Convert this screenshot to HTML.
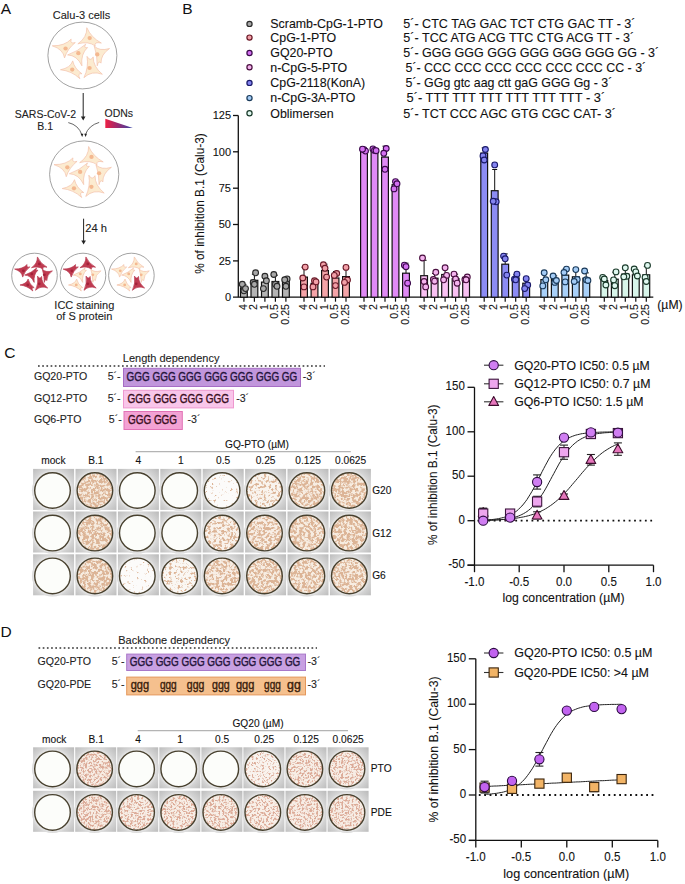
<!DOCTYPE html>
<html><head><meta charset="utf-8"><title>figure</title><style>
html,body{margin:0;padding:0;background:#fff;}
svg{display:block;font-family:"Liberation Sans",sans-serif;}
text{stroke:currentColor;stroke-width:0.1px;paint-order:stroke;}
text.pl{stroke-width:0;}
</style></head><body>
<svg width="685" height="884" viewBox="0 0 685 884">
<rect width="685" height="884" fill="#fff"/>
<defs><radialGradient id="wsq" cx="0.48" cy="0.52" r="0.71"><stop offset="0" stop-color="#e6e6e6"/><stop offset="0.62" stop-color="#dddddd"/><stop offset="0.8" stop-color="#cdcdcd"/><stop offset="1" stop-color="#bcbcbc"/></radialGradient><radialGradient id="wring"><stop offset="0.8" stop-color="#eeeeee"/><stop offset="1" stop-color="#dadada"/></radialGradient></defs>
<defs><filter id="fc1" color-interpolation-filters="sRGB" x="-5%" y="-5%" width="110%" height="110%"><feTurbulence type="fractalNoise" baseFrequency="0.36" numOctaves="3" seed="12" result="n"/><feGaussianBlur in="n" stdDeviation="0.25" result="nb"/><feColorMatrix in="nb" type="matrix" values="0 0 0 0 0  0 0 0 0 0  0 0 0 0 0  6.0 0 0 0 -3.788" result="a0"/><feGaussianBlur in="a0" stdDeviation="0.45" result="a"/><feComposite in="SourceGraphic" in2="a" operator="in"/></filter><filter id="fc2" color-interpolation-filters="sRGB" x="-5%" y="-5%" width="110%" height="110%"><feTurbulence type="fractalNoise" baseFrequency="0.36" numOctaves="3" seed="13" result="n"/><feGaussianBlur in="n" stdDeviation="0.25" result="nb"/><feColorMatrix in="nb" type="matrix" values="0 0 0 0 0  0 0 0 0 0  0 0 0 0 0  6.0 0 0 0 -3.512" result="a0"/><feGaussianBlur in="a0" stdDeviation="0.45" result="a"/><feComposite in="SourceGraphic" in2="a" operator="in"/></filter><filter id="fc3" color-interpolation-filters="sRGB" x="-5%" y="-5%" width="110%" height="110%"><feTurbulence type="fractalNoise" baseFrequency="0.36" numOctaves="3" seed="14" result="n"/><feGaussianBlur in="n" stdDeviation="0.25" result="nb"/><feColorMatrix in="nb" type="matrix" values="0 0 0 0 0  0 0 0 0 0  0 0 0 0 0  6.0 0 0 0 -3.318" result="a0"/><feGaussianBlur in="a0" stdDeviation="0.45" result="a"/><feComposite in="SourceGraphic" in2="a" operator="in"/></filter><filter id="fc4" color-interpolation-filters="sRGB" x="-5%" y="-5%" width="110%" height="110%"><feTurbulence type="fractalNoise" baseFrequency="0.36" numOctaves="3" seed="15" result="n"/><feGaussianBlur in="n" stdDeviation="0.25" result="nb"/><feColorMatrix in="nb" type="matrix" values="0 0 0 0 0  0 0 0 0 0  0 0 0 0 0  6.0 0 0 0 -3.162" result="a0"/><feGaussianBlur in="a0" stdDeviation="0.45" result="a"/><feComposite in="SourceGraphic" in2="a" operator="in"/></filter><filter id="fc5" color-interpolation-filters="sRGB" x="-5%" y="-5%" width="110%" height="110%"><feTurbulence type="fractalNoise" baseFrequency="0.36" numOctaves="3" seed="16" result="n"/><feGaussianBlur in="n" stdDeviation="0.25" result="nb"/><feColorMatrix in="nb" type="matrix" values="0 0 0 0 0  0 0 0 0 0  0 0 0 0 0  6.0 0 0 0 -3.028" result="a0"/><feGaussianBlur in="a0" stdDeviation="0.45" result="a"/><feComposite in="SourceGraphic" in2="a" operator="in"/></filter><filter id="fc6" color-interpolation-filters="sRGB" x="-5%" y="-5%" width="110%" height="110%"><feTurbulence type="fractalNoise" baseFrequency="0.36" numOctaves="3" seed="17" result="n"/><feGaussianBlur in="n" stdDeviation="0.25" result="nb"/><feColorMatrix in="nb" type="matrix" values="0 0 0 0 0  0 0 0 0 0  0 0 0 0 0  6.0 0 0 0 -2.909" result="a0"/><feGaussianBlur in="a0" stdDeviation="0.45" result="a"/><feComposite in="SourceGraphic" in2="a" operator="in"/></filter><filter id="fc7" color-interpolation-filters="sRGB" x="-5%" y="-5%" width="110%" height="110%"><feTurbulence type="fractalNoise" baseFrequency="0.36" numOctaves="3" seed="18" result="n"/><feGaussianBlur in="n" stdDeviation="0.25" result="nb"/><feColorMatrix in="nb" type="matrix" values="0 0 0 0 0  0 0 0 0 0  0 0 0 0 0  6.0 0 0 0 -2.800" result="a0"/><feGaussianBlur in="a0" stdDeviation="0.45" result="a"/><feComposite in="SourceGraphic" in2="a" operator="in"/></filter><filter id="fc8" color-interpolation-filters="sRGB" x="-5%" y="-5%" width="110%" height="110%"><feTurbulence type="fractalNoise" baseFrequency="0.36" numOctaves="3" seed="19" result="n"/><feGaussianBlur in="n" stdDeviation="0.25" result="nb"/><feColorMatrix in="nb" type="matrix" values="0 0 0 0 0  0 0 0 0 0  0 0 0 0 0  6.0 0 0 0 -2.696" result="a0"/><feGaussianBlur in="a0" stdDeviation="0.45" result="a"/><feComposite in="SourceGraphic" in2="a" operator="in"/></filter><filter id="fc9" color-interpolation-filters="sRGB" x="-5%" y="-5%" width="110%" height="110%"><feTurbulence type="fractalNoise" baseFrequency="0.36" numOctaves="3" seed="20" result="n"/><feGaussianBlur in="n" stdDeviation="0.25" result="nb"/><feColorMatrix in="nb" type="matrix" values="0 0 0 0 0  0 0 0 0 0  0 0 0 0 0  6.0 0 0 0 -2.597" result="a0"/><feGaussianBlur in="a0" stdDeviation="0.45" result="a"/><feComposite in="SourceGraphic" in2="a" operator="in"/></filter><filter id="fc10" color-interpolation-filters="sRGB" x="-5%" y="-5%" width="110%" height="110%"><feTurbulence type="fractalNoise" baseFrequency="0.36" numOctaves="3" seed="21" result="n"/><feGaussianBlur in="n" stdDeviation="0.25" result="nb"/><feColorMatrix in="nb" type="matrix" values="0 0 0 0 0  0 0 0 0 0  0 0 0 0 0  6.0 0 0 0 -2.498" result="a0"/><feGaussianBlur in="a0" stdDeviation="0.45" result="a"/><feComposite in="SourceGraphic" in2="a" operator="in"/></filter><filter id="fc11" color-interpolation-filters="sRGB" x="-5%" y="-5%" width="110%" height="110%"><feTurbulence type="fractalNoise" baseFrequency="0.36" numOctaves="3" seed="22" result="n"/><feGaussianBlur in="n" stdDeviation="0.25" result="nb"/><feColorMatrix in="nb" type="matrix" values="0 0 0 0 0  0 0 0 0 0  0 0 0 0 0  6.0 0 0 0 -2.401" result="a0"/><feGaussianBlur in="a0" stdDeviation="0.45" result="a"/><feComposite in="SourceGraphic" in2="a" operator="in"/></filter><filter id="fc12" color-interpolation-filters="sRGB" x="-5%" y="-5%" width="110%" height="110%"><feTurbulence type="fractalNoise" baseFrequency="0.36" numOctaves="3" seed="23" result="n"/><feGaussianBlur in="n" stdDeviation="0.25" result="nb"/><feColorMatrix in="nb" type="matrix" values="0 0 0 0 0  0 0 0 0 0  0 0 0 0 0  6.0 0 0 0 -2.301" result="a0"/><feGaussianBlur in="a0" stdDeviation="0.45" result="a"/><feComposite in="SourceGraphic" in2="a" operator="in"/></filter><filter id="fc13" color-interpolation-filters="sRGB" x="-5%" y="-5%" width="110%" height="110%"><feTurbulence type="fractalNoise" baseFrequency="0.36" numOctaves="3" seed="24" result="n"/><feGaussianBlur in="n" stdDeviation="0.25" result="nb"/><feColorMatrix in="nb" type="matrix" values="0 0 0 0 0  0 0 0 0 0  0 0 0 0 0  6.0 0 0 0 -2.198" result="a0"/><feGaussianBlur in="a0" stdDeviation="0.45" result="a"/><feComposite in="SourceGraphic" in2="a" operator="in"/></filter><filter id="fc14" color-interpolation-filters="sRGB" x="-5%" y="-5%" width="110%" height="110%"><feTurbulence type="fractalNoise" baseFrequency="0.36" numOctaves="3" seed="25" result="n"/><feGaussianBlur in="n" stdDeviation="0.25" result="nb"/><feColorMatrix in="nb" type="matrix" values="0 0 0 0 0  0 0 0 0 0  0 0 0 0 0  6.0 0 0 0 -2.090" result="a0"/><feGaussianBlur in="a0" stdDeviation="0.45" result="a"/><feComposite in="SourceGraphic" in2="a" operator="in"/></filter><filter id="fc15" color-interpolation-filters="sRGB" x="-5%" y="-5%" width="110%" height="110%"><feTurbulence type="fractalNoise" baseFrequency="0.36" numOctaves="3" seed="26" result="n"/><feGaussianBlur in="n" stdDeviation="0.25" result="nb"/><feColorMatrix in="nb" type="matrix" values="0 0 0 0 0  0 0 0 0 0  0 0 0 0 0  6.0 0 0 0 -1.972" result="a0"/><feGaussianBlur in="a0" stdDeviation="0.45" result="a"/><feComposite in="SourceGraphic" in2="a" operator="in"/></filter><filter id="fc16" color-interpolation-filters="sRGB" x="-5%" y="-5%" width="110%" height="110%"><feTurbulence type="fractalNoise" baseFrequency="0.36" numOctaves="3" seed="27" result="n"/><feGaussianBlur in="n" stdDeviation="0.25" result="nb"/><feColorMatrix in="nb" type="matrix" values="0 0 0 0 0  0 0 0 0 0  0 0 0 0 0  6.0 0 0 0 -1.839" result="a0"/><feGaussianBlur in="a0" stdDeviation="0.45" result="a"/><feComposite in="SourceGraphic" in2="a" operator="in"/></filter><filter id="fc17" color-interpolation-filters="sRGB" x="-5%" y="-5%" width="110%" height="110%"><feTurbulence type="fractalNoise" baseFrequency="0.36" numOctaves="3" seed="28" result="n"/><feGaussianBlur in="n" stdDeviation="0.25" result="nb"/><feColorMatrix in="nb" type="matrix" values="0 0 0 0 0  0 0 0 0 0  0 0 0 0 0  6.0 0 0 0 -1.685" result="a0"/><feGaussianBlur in="a0" stdDeviation="0.45" result="a"/><feComposite in="SourceGraphic" in2="a" operator="in"/></filter><filter id="fc18" color-interpolation-filters="sRGB" x="-5%" y="-5%" width="110%" height="110%"><feTurbulence type="fractalNoise" baseFrequency="0.36" numOctaves="3" seed="29" result="n"/><feGaussianBlur in="n" stdDeviation="0.25" result="nb"/><feColorMatrix in="nb" type="matrix" values="0 0 0 0 0  0 0 0 0 0  0 0 0 0 0  6.0 0 0 0 -1.492" result="a0"/><feGaussianBlur in="a0" stdDeviation="0.45" result="a"/><feComposite in="SourceGraphic" in2="a" operator="in"/></filter><filter id="fc19" color-interpolation-filters="sRGB" x="-5%" y="-5%" width="110%" height="110%"><feTurbulence type="fractalNoise" baseFrequency="0.36" numOctaves="3" seed="30" result="n"/><feGaussianBlur in="n" stdDeviation="0.25" result="nb"/><feColorMatrix in="nb" type="matrix" values="0 0 0 0 0  0 0 0 0 0  0 0 0 0 0  6.0 0 0 0 -1.216" result="a0"/><feGaussianBlur in="a0" stdDeviation="0.45" result="a"/><feComposite in="SourceGraphic" in2="a" operator="in"/></filter><filter id="fc20" color-interpolation-filters="sRGB" x="-5%" y="-5%" width="110%" height="110%"><feTurbulence type="fractalNoise" baseFrequency="0.36" numOctaves="3" seed="31" result="n"/><feGaussianBlur in="n" stdDeviation="0.25" result="nb"/><feColorMatrix in="nb" type="matrix" values="0 0 0 0 0  0 0 0 0 0  0 0 0 0 0  6.0 0 0 0 -0.900" result="a0"/><feGaussianBlur in="a0" stdDeviation="0.45" result="a"/><feComposite in="SourceGraphic" in2="a" operator="in"/></filter></defs>
<defs><filter id="fd1" color-interpolation-filters="sRGB" x="-5%" y="-5%" width="110%" height="110%"><feTurbulence type="fractalNoise" baseFrequency="0.48" numOctaves="3" seed="52" result="n"/><feGaussianBlur in="n" stdDeviation="0.25" result="nb"/><feColorMatrix in="nb" type="matrix" values="0 0 0 0 0  0 0 0 0 0  0 0 0 0 0  6.0 0 0 0 -3.788" result="a0"/><feGaussianBlur in="a0" stdDeviation="0.4" result="a"/><feComposite in="SourceGraphic" in2="a" operator="in"/></filter><filter id="fd2" color-interpolation-filters="sRGB" x="-5%" y="-5%" width="110%" height="110%"><feTurbulence type="fractalNoise" baseFrequency="0.48" numOctaves="3" seed="53" result="n"/><feGaussianBlur in="n" stdDeviation="0.25" result="nb"/><feColorMatrix in="nb" type="matrix" values="0 0 0 0 0  0 0 0 0 0  0 0 0 0 0  6.0 0 0 0 -3.512" result="a0"/><feGaussianBlur in="a0" stdDeviation="0.4" result="a"/><feComposite in="SourceGraphic" in2="a" operator="in"/></filter><filter id="fd3" color-interpolation-filters="sRGB" x="-5%" y="-5%" width="110%" height="110%"><feTurbulence type="fractalNoise" baseFrequency="0.48" numOctaves="3" seed="54" result="n"/><feGaussianBlur in="n" stdDeviation="0.25" result="nb"/><feColorMatrix in="nb" type="matrix" values="0 0 0 0 0  0 0 0 0 0  0 0 0 0 0  6.0 0 0 0 -3.318" result="a0"/><feGaussianBlur in="a0" stdDeviation="0.4" result="a"/><feComposite in="SourceGraphic" in2="a" operator="in"/></filter><filter id="fd4" color-interpolation-filters="sRGB" x="-5%" y="-5%" width="110%" height="110%"><feTurbulence type="fractalNoise" baseFrequency="0.48" numOctaves="3" seed="55" result="n"/><feGaussianBlur in="n" stdDeviation="0.25" result="nb"/><feColorMatrix in="nb" type="matrix" values="0 0 0 0 0  0 0 0 0 0  0 0 0 0 0  6.0 0 0 0 -3.162" result="a0"/><feGaussianBlur in="a0" stdDeviation="0.4" result="a"/><feComposite in="SourceGraphic" in2="a" operator="in"/></filter><filter id="fd5" color-interpolation-filters="sRGB" x="-5%" y="-5%" width="110%" height="110%"><feTurbulence type="fractalNoise" baseFrequency="0.48" numOctaves="3" seed="56" result="n"/><feGaussianBlur in="n" stdDeviation="0.25" result="nb"/><feColorMatrix in="nb" type="matrix" values="0 0 0 0 0  0 0 0 0 0  0 0 0 0 0  6.0 0 0 0 -3.028" result="a0"/><feGaussianBlur in="a0" stdDeviation="0.4" result="a"/><feComposite in="SourceGraphic" in2="a" operator="in"/></filter><filter id="fd6" color-interpolation-filters="sRGB" x="-5%" y="-5%" width="110%" height="110%"><feTurbulence type="fractalNoise" baseFrequency="0.48" numOctaves="3" seed="57" result="n"/><feGaussianBlur in="n" stdDeviation="0.25" result="nb"/><feColorMatrix in="nb" type="matrix" values="0 0 0 0 0  0 0 0 0 0  0 0 0 0 0  6.0 0 0 0 -2.909" result="a0"/><feGaussianBlur in="a0" stdDeviation="0.4" result="a"/><feComposite in="SourceGraphic" in2="a" operator="in"/></filter><filter id="fd7" color-interpolation-filters="sRGB" x="-5%" y="-5%" width="110%" height="110%"><feTurbulence type="fractalNoise" baseFrequency="0.48" numOctaves="3" seed="58" result="n"/><feGaussianBlur in="n" stdDeviation="0.25" result="nb"/><feColorMatrix in="nb" type="matrix" values="0 0 0 0 0  0 0 0 0 0  0 0 0 0 0  6.0 0 0 0 -2.800" result="a0"/><feGaussianBlur in="a0" stdDeviation="0.4" result="a"/><feComposite in="SourceGraphic" in2="a" operator="in"/></filter><filter id="fd8" color-interpolation-filters="sRGB" x="-5%" y="-5%" width="110%" height="110%"><feTurbulence type="fractalNoise" baseFrequency="0.48" numOctaves="3" seed="59" result="n"/><feGaussianBlur in="n" stdDeviation="0.25" result="nb"/><feColorMatrix in="nb" type="matrix" values="0 0 0 0 0  0 0 0 0 0  0 0 0 0 0  6.0 0 0 0 -2.696" result="a0"/><feGaussianBlur in="a0" stdDeviation="0.4" result="a"/><feComposite in="SourceGraphic" in2="a" operator="in"/></filter><filter id="fd9" color-interpolation-filters="sRGB" x="-5%" y="-5%" width="110%" height="110%"><feTurbulence type="fractalNoise" baseFrequency="0.48" numOctaves="3" seed="60" result="n"/><feGaussianBlur in="n" stdDeviation="0.25" result="nb"/><feColorMatrix in="nb" type="matrix" values="0 0 0 0 0  0 0 0 0 0  0 0 0 0 0  6.0 0 0 0 -2.597" result="a0"/><feGaussianBlur in="a0" stdDeviation="0.4" result="a"/><feComposite in="SourceGraphic" in2="a" operator="in"/></filter><filter id="fd10" color-interpolation-filters="sRGB" x="-5%" y="-5%" width="110%" height="110%"><feTurbulence type="fractalNoise" baseFrequency="0.48" numOctaves="3" seed="61" result="n"/><feGaussianBlur in="n" stdDeviation="0.25" result="nb"/><feColorMatrix in="nb" type="matrix" values="0 0 0 0 0  0 0 0 0 0  0 0 0 0 0  6.0 0 0 0 -2.498" result="a0"/><feGaussianBlur in="a0" stdDeviation="0.4" result="a"/><feComposite in="SourceGraphic" in2="a" operator="in"/></filter><filter id="fd11" color-interpolation-filters="sRGB" x="-5%" y="-5%" width="110%" height="110%"><feTurbulence type="fractalNoise" baseFrequency="0.48" numOctaves="3" seed="62" result="n"/><feGaussianBlur in="n" stdDeviation="0.25" result="nb"/><feColorMatrix in="nb" type="matrix" values="0 0 0 0 0  0 0 0 0 0  0 0 0 0 0  6.0 0 0 0 -2.401" result="a0"/><feGaussianBlur in="a0" stdDeviation="0.4" result="a"/><feComposite in="SourceGraphic" in2="a" operator="in"/></filter><filter id="fd12" color-interpolation-filters="sRGB" x="-5%" y="-5%" width="110%" height="110%"><feTurbulence type="fractalNoise" baseFrequency="0.48" numOctaves="3" seed="63" result="n"/><feGaussianBlur in="n" stdDeviation="0.25" result="nb"/><feColorMatrix in="nb" type="matrix" values="0 0 0 0 0  0 0 0 0 0  0 0 0 0 0  6.0 0 0 0 -2.301" result="a0"/><feGaussianBlur in="a0" stdDeviation="0.4" result="a"/><feComposite in="SourceGraphic" in2="a" operator="in"/></filter><filter id="fd13" color-interpolation-filters="sRGB" x="-5%" y="-5%" width="110%" height="110%"><feTurbulence type="fractalNoise" baseFrequency="0.48" numOctaves="3" seed="64" result="n"/><feGaussianBlur in="n" stdDeviation="0.25" result="nb"/><feColorMatrix in="nb" type="matrix" values="0 0 0 0 0  0 0 0 0 0  0 0 0 0 0  6.0 0 0 0 -2.198" result="a0"/><feGaussianBlur in="a0" stdDeviation="0.4" result="a"/><feComposite in="SourceGraphic" in2="a" operator="in"/></filter><filter id="fd14" color-interpolation-filters="sRGB" x="-5%" y="-5%" width="110%" height="110%"><feTurbulence type="fractalNoise" baseFrequency="0.48" numOctaves="3" seed="65" result="n"/><feGaussianBlur in="n" stdDeviation="0.25" result="nb"/><feColorMatrix in="nb" type="matrix" values="0 0 0 0 0  0 0 0 0 0  0 0 0 0 0  6.0 0 0 0 -2.090" result="a0"/><feGaussianBlur in="a0" stdDeviation="0.4" result="a"/><feComposite in="SourceGraphic" in2="a" operator="in"/></filter><filter id="fd15" color-interpolation-filters="sRGB" x="-5%" y="-5%" width="110%" height="110%"><feTurbulence type="fractalNoise" baseFrequency="0.48" numOctaves="3" seed="66" result="n"/><feGaussianBlur in="n" stdDeviation="0.25" result="nb"/><feColorMatrix in="nb" type="matrix" values="0 0 0 0 0  0 0 0 0 0  0 0 0 0 0  6.0 0 0 0 -1.972" result="a0"/><feGaussianBlur in="a0" stdDeviation="0.4" result="a"/><feComposite in="SourceGraphic" in2="a" operator="in"/></filter><filter id="fd16" color-interpolation-filters="sRGB" x="-5%" y="-5%" width="110%" height="110%"><feTurbulence type="fractalNoise" baseFrequency="0.48" numOctaves="3" seed="67" result="n"/><feGaussianBlur in="n" stdDeviation="0.25" result="nb"/><feColorMatrix in="nb" type="matrix" values="0 0 0 0 0  0 0 0 0 0  0 0 0 0 0  6.0 0 0 0 -1.839" result="a0"/><feGaussianBlur in="a0" stdDeviation="0.4" result="a"/><feComposite in="SourceGraphic" in2="a" operator="in"/></filter><filter id="fd17" color-interpolation-filters="sRGB" x="-5%" y="-5%" width="110%" height="110%"><feTurbulence type="fractalNoise" baseFrequency="0.48" numOctaves="3" seed="68" result="n"/><feGaussianBlur in="n" stdDeviation="0.25" result="nb"/><feColorMatrix in="nb" type="matrix" values="0 0 0 0 0  0 0 0 0 0  0 0 0 0 0  6.0 0 0 0 -1.685" result="a0"/><feGaussianBlur in="a0" stdDeviation="0.4" result="a"/><feComposite in="SourceGraphic" in2="a" operator="in"/></filter><filter id="fd18" color-interpolation-filters="sRGB" x="-5%" y="-5%" width="110%" height="110%"><feTurbulence type="fractalNoise" baseFrequency="0.48" numOctaves="3" seed="69" result="n"/><feGaussianBlur in="n" stdDeviation="0.25" result="nb"/><feColorMatrix in="nb" type="matrix" values="0 0 0 0 0  0 0 0 0 0  0 0 0 0 0  6.0 0 0 0 -1.492" result="a0"/><feGaussianBlur in="a0" stdDeviation="0.4" result="a"/><feComposite in="SourceGraphic" in2="a" operator="in"/></filter><filter id="fd19" color-interpolation-filters="sRGB" x="-5%" y="-5%" width="110%" height="110%"><feTurbulence type="fractalNoise" baseFrequency="0.48" numOctaves="3" seed="70" result="n"/><feGaussianBlur in="n" stdDeviation="0.25" result="nb"/><feColorMatrix in="nb" type="matrix" values="0 0 0 0 0  0 0 0 0 0  0 0 0 0 0  6.0 0 0 0 -1.216" result="a0"/><feGaussianBlur in="a0" stdDeviation="0.4" result="a"/><feComposite in="SourceGraphic" in2="a" operator="in"/></filter><filter id="fd20" color-interpolation-filters="sRGB" x="-5%" y="-5%" width="110%" height="110%"><feTurbulence type="fractalNoise" baseFrequency="0.48" numOctaves="3" seed="71" result="n"/><feGaussianBlur in="n" stdDeviation="0.25" result="nb"/><feColorMatrix in="nb" type="matrix" values="0 0 0 0 0  0 0 0 0 0  0 0 0 0 0  6.0 0 0 0 -0.900" result="a0"/><feGaussianBlur in="a0" stdDeviation="0.4" result="a"/><feComposite in="SourceGraphic" in2="a" operator="in"/></filter></defs>
<text x="0.8" y="14.0" font-size="15.5" text-anchor="start" fill="#111" color="#111" class="pl">A</text>
<text x="182.3" y="14.0" font-size="15.5" text-anchor="start" fill="#111" color="#111" class="pl">B</text>
<text x="4.2" y="357.6" font-size="15.5" text-anchor="start" fill="#111" color="#111" class="pl">C</text>
<text x="0.6" y="637.4" font-size="15.5" text-anchor="start" fill="#111" color="#111" class="pl">D</text>
<text x="81.5" y="19.3" font-size="11" text-anchor="middle" fill="#222" color="#222" >Calu-3 cells</text>
<ellipse cx="82.4" cy="55.5" rx="34.5" ry="33.4" fill="#fff" stroke="#8a8a8a" stroke-width="0.8"/>
<g transform="translate(82.4,55.5) scale(0.3450,0.3340)">
<path d="M12.8,-83.2 Q25.3,-53.9 54.9,-37.2 Q32.7,-42.1 37.1,-28.4 Q17.7,-43.8 -13.2,-34.9 Q13.4,-53.5 12.8,-83.2Z" fill="#fcebd0" stroke="#f3c0aa" stroke-width="2.03" stroke-linejoin="round"/>
<circle cx="21.1" cy="-52.1" r="6.3" fill="#f4b890"/>
<path d="M-87.3,-29.0 Q-51.7,-28.2 -32.5,-49.1 Q-36.6,-33.5 -20.6,-38.7 Q-43.4,-20.1 -51.8,7.2 Q-55.2,-18.3 -87.3,-29.0Z" fill="#fcebd0" stroke="#f3c0aa" stroke-width="2.03" stroke-linejoin="round"/>
<circle cx="-48.8" cy="-20.9" r="6.3" fill="#f4b890"/>
<path d="M9.5,-33.8 Q2.3,-20.7 14.9,-23.9 Q-5.3,-4.7 -1.4,30.9 Q-15.5,-0.7 -42.9,-1.7 Q-13.5,-12.1 9.5,-33.8Z" fill="#fcebd0" stroke="#f3c0aa" stroke-width="2.03" stroke-linejoin="round"/>
<circle cx="-11.8" cy="-7.0" r="6.3" fill="#f4b890"/>
<path d="M34.1,-28.4 Q49.7,-11.9 78.6,-20.9 Q53.2,-2.7 53.9,22.9 Q47.3,12.7 43.0,30.9 Q43.4,-2.6 34.1,-28.4Z" fill="#fcebd0" stroke="#f3c0aa" stroke-width="2.03" stroke-linejoin="round"/>
<circle cx="43.0" cy="-3.2" r="6.3" fill="#f4b890"/>
<path d="M-28.0,16.1 Q-23.2,39.1 -1.4,54.6 Q-15.8,51.9 -7.3,69.4 Q-30.6,46.3 -63.6,42.7 Q-34.5,36.9 -28.0,16.1Z" fill="#fcebd0" stroke="#f3c0aa" stroke-width="2.03" stroke-linejoin="round"/>
<circle cx="-29.5" cy="42.1" r="6.3" fill="#f4b890"/>
<path d="M13.4,2.7 Q23.1,19.6 31.2,4.2 Q31.0,33.5 57.8,56.1 Q26.4,44.4 4.5,66.4 Q18.7,35.0 13.4,2.7Z" fill="#fcebd0" stroke="#f3c0aa" stroke-width="2.03" stroke-linejoin="round"/>
<circle cx="20.8" cy="37.4" r="6.3" fill="#f4b890"/>
</g>
<line x1="83.2" y1="93" x2="83.2" y2="117.5" stroke="#222" stroke-width="1"/>
<path d="M80.9,116.5 L85.5,116.5 L83.2,120.5 Z" fill="#222"/>
<text x="45.5" y="118.1" font-size="10.5" text-anchor="middle" fill="#222" color="#222" >SARS-CoV-2</text>
<text x="45.2" y="130.0" font-size="10.5" text-anchor="middle" fill="#222" color="#222" >B.1</text>
<text x="118.8" y="117.1" font-size="10.5" text-anchor="middle" fill="#222" color="#222" >ODNs</text>
<defs><linearGradient id="odn" x1="0" x2="1" y1="0" y2="0"><stop offset="0" stop-color="#ee2044"/><stop offset="0.45" stop-color="#9a2a70"/><stop offset="1" stop-color="#3446a8"/></linearGradient></defs>
<path d="M105.3,118.7 L132.8,127.9 L105.3,127.9 Z" fill="url(#odn)"/>
<path d="M68.3,122.6 Q78.5,125 81.9,134.8" fill="none" stroke="#333" stroke-width="0.75"/>
<path d="M99.2,122.4 Q88.5,125.5 85.4,134.8" fill="none" stroke="#333" stroke-width="0.75"/>
<path d="M80.6,133.8 L83.4,133.8 L82.2,137 Z" fill="#222"/>
<path d="M84.2,133.8 L87,133.8 L85.6,137 Z" fill="#222"/>
<ellipse cx="84.2" cy="174.3" rx="34.6" ry="33.4" fill="#fff" stroke="#8a8a8a" stroke-width="0.8"/>
<g transform="translate(84.2,174.3) scale(0.3460,0.3340)">
<path d="M12.8,-83.2 Q25.3,-53.9 54.9,-37.2 Q32.7,-42.1 37.1,-28.4 Q17.7,-43.8 -13.2,-34.9 Q13.4,-53.5 12.8,-83.2Z" fill="#fcebd0" stroke="#f3c0aa" stroke-width="2.02" stroke-linejoin="round"/>
<circle cx="21.1" cy="-52.1" r="6.3" fill="#f4b890"/>
<path d="M-87.3,-29.0 Q-51.7,-28.2 -32.5,-49.1 Q-36.6,-33.5 -20.6,-38.7 Q-43.4,-20.1 -51.8,7.2 Q-55.2,-18.3 -87.3,-29.0Z" fill="#fcebd0" stroke="#f3c0aa" stroke-width="2.02" stroke-linejoin="round"/>
<circle cx="-48.8" cy="-20.9" r="6.3" fill="#f4b890"/>
<path d="M9.5,-33.8 Q2.3,-20.7 14.9,-23.9 Q-5.3,-4.7 -1.4,30.9 Q-15.5,-0.7 -42.9,-1.7 Q-13.5,-12.1 9.5,-33.8Z" fill="#fcebd0" stroke="#f3c0aa" stroke-width="2.02" stroke-linejoin="round"/>
<circle cx="-11.8" cy="-7.0" r="6.3" fill="#f4b890"/>
<path d="M34.1,-28.4 Q49.7,-11.9 78.6,-20.9 Q53.2,-2.7 53.9,22.9 Q47.3,12.7 43.0,30.9 Q43.4,-2.6 34.1,-28.4Z" fill="#fcebd0" stroke="#f3c0aa" stroke-width="2.02" stroke-linejoin="round"/>
<circle cx="43.0" cy="-3.2" r="6.3" fill="#f4b890"/>
<path d="M-28.0,16.1 Q-23.2,39.1 -1.4,54.6 Q-15.8,51.9 -7.3,69.4 Q-30.6,46.3 -63.6,42.7 Q-34.5,36.9 -28.0,16.1Z" fill="#fcebd0" stroke="#f3c0aa" stroke-width="2.02" stroke-linejoin="round"/>
<circle cx="-29.5" cy="42.1" r="6.3" fill="#f4b890"/>
<path d="M13.4,2.7 Q23.1,19.6 31.2,4.2 Q31.0,33.5 57.8,56.1 Q26.4,44.4 4.5,66.4 Q18.7,35.0 13.4,2.7Z" fill="#fcebd0" stroke="#f3c0aa" stroke-width="2.02" stroke-linejoin="round"/>
<circle cx="20.8" cy="37.4" r="6.3" fill="#f4b890"/>
</g>
<line x1="83.6" y1="218.7" x2="83.6" y2="241.6" stroke="#222" stroke-width="1"/>
<path d="M81.3,240.6 L85.89999999999999,240.6 L83.6,244.6 Z" fill="#222"/>
<text x="85.3" y="231.5" font-size="11.2" text-anchor="start" fill="#222" color="#222" >24 h</text>
<ellipse cx="34.5" cy="275.5" rx="22.8" ry="22.3" fill="#fff" stroke="#8a8a8a" stroke-width="0.8"/>
<g transform="translate(34.5,275.5) scale(0.2280,0.2230)">
<path d="M12.8,-83.2 Q25.3,-53.9 54.9,-37.2 Q32.7,-42.1 37.1,-28.4 Q17.7,-43.8 -13.2,-34.9 Q13.4,-53.5 12.8,-83.2Z" fill="#bf3a50" stroke="#b83a50" stroke-width="3.07" stroke-linejoin="round"/>
<circle cx="21.1" cy="-52.1" r="6.3" fill="#a3223a"/>
<path d="M-87.3,-29.0 Q-51.7,-28.2 -32.5,-49.1 Q-36.6,-33.5 -20.6,-38.7 Q-43.4,-20.1 -51.8,7.2 Q-55.2,-18.3 -87.3,-29.0Z" fill="#bf3a50" stroke="#b83a50" stroke-width="3.07" stroke-linejoin="round"/>
<circle cx="-48.8" cy="-20.9" r="6.3" fill="#a3223a"/>
<path d="M9.5,-33.8 Q2.3,-20.7 14.9,-23.9 Q-5.3,-4.7 -1.4,30.9 Q-15.5,-0.7 -42.9,-1.7 Q-13.5,-12.1 9.5,-33.8Z" fill="#bf3a50" stroke="#b83a50" stroke-width="3.07" stroke-linejoin="round"/>
<circle cx="-11.8" cy="-7.0" r="6.3" fill="#a3223a"/>
<path d="M34.1,-28.4 Q49.7,-11.9 78.6,-20.9 Q53.2,-2.7 53.9,22.9 Q47.3,12.7 43.0,30.9 Q43.4,-2.6 34.1,-28.4Z" fill="#bf3a50" stroke="#b83a50" stroke-width="3.07" stroke-linejoin="round"/>
<circle cx="43.0" cy="-3.2" r="6.3" fill="#a3223a"/>
<path d="M-28.0,16.1 Q-23.2,39.1 -1.4,54.6 Q-15.8,51.9 -7.3,69.4 Q-30.6,46.3 -63.6,42.7 Q-34.5,36.9 -28.0,16.1Z" fill="#bf3a50" stroke="#b83a50" stroke-width="3.07" stroke-linejoin="round"/>
<circle cx="-29.5" cy="42.1" r="6.3" fill="#a3223a"/>
<path d="M13.4,2.7 Q23.1,19.6 31.2,4.2 Q31.0,33.5 57.8,56.1 Q26.4,44.4 4.5,66.4 Q18.7,35.0 13.4,2.7Z" fill="#bf3a50" stroke="#b83a50" stroke-width="3.07" stroke-linejoin="round"/>
<circle cx="20.8" cy="37.4" r="6.3" fill="#a3223a"/>
</g>
<ellipse cx="83.0" cy="275.5" rx="22.8" ry="22.3" fill="#fff" stroke="#8a8a8a" stroke-width="0.8"/>
<g transform="translate(83.0,275.5) scale(0.2280,0.2230)">
<path d="M12.8,-83.2 Q25.3,-53.9 54.9,-37.2 Q32.7,-42.1 37.1,-28.4 Q17.7,-43.8 -13.2,-34.9 Q13.4,-53.5 12.8,-83.2Z" fill="#bf3a50" stroke="#b83a50" stroke-width="3.07" stroke-linejoin="round"/>
<circle cx="21.1" cy="-52.1" r="6.3" fill="#a3223a"/>
<path d="M-87.3,-29.0 Q-51.7,-28.2 -32.5,-49.1 Q-36.6,-33.5 -20.6,-38.7 Q-43.4,-20.1 -51.8,7.2 Q-55.2,-18.3 -87.3,-29.0Z" fill="#bf3a50" stroke="#b83a50" stroke-width="3.07" stroke-linejoin="round"/>
<circle cx="-48.8" cy="-20.9" r="6.3" fill="#a3223a"/>
<path d="M9.5,-33.8 Q2.3,-20.7 14.9,-23.9 Q-5.3,-4.7 -1.4,30.9 Q-15.5,-0.7 -42.9,-1.7 Q-13.5,-12.1 9.5,-33.8Z" fill="#fcebd0" stroke="#f3c0aa" stroke-width="3.07" stroke-linejoin="round"/>
<circle cx="-11.8" cy="-7.0" r="6.3" fill="#f4b890"/>
<path d="M34.1,-28.4 Q49.7,-11.9 78.6,-20.9 Q53.2,-2.7 53.9,22.9 Q47.3,12.7 43.0,30.9 Q43.4,-2.6 34.1,-28.4Z" fill="#fcebd0" stroke="#f3c0aa" stroke-width="3.07" stroke-linejoin="round"/>
<circle cx="43.0" cy="-3.2" r="6.3" fill="#f4b890"/>
<path d="M-28.0,16.1 Q-23.2,39.1 -1.4,54.6 Q-15.8,51.9 -7.3,69.4 Q-30.6,46.3 -63.6,42.7 Q-34.5,36.9 -28.0,16.1Z" fill="#fcebd0" stroke="#f3c0aa" stroke-width="3.07" stroke-linejoin="round"/>
<circle cx="-29.5" cy="42.1" r="6.3" fill="#f4b890"/>
<path d="M13.4,2.7 Q23.1,19.6 31.2,4.2 Q31.0,33.5 57.8,56.1 Q26.4,44.4 4.5,66.4 Q18.7,35.0 13.4,2.7Z" fill="#bf3a50" stroke="#b83a50" stroke-width="3.07" stroke-linejoin="round"/>
<circle cx="20.8" cy="37.4" r="6.3" fill="#a3223a"/>
</g>
<ellipse cx="131.4" cy="275.5" rx="22.8" ry="22.3" fill="#fff" stroke="#8a8a8a" stroke-width="0.8"/>
<g transform="translate(131.4,275.5) scale(0.2280,0.2230)">
<path d="M12.8,-83.2 Q25.3,-53.9 54.9,-37.2 Q32.7,-42.1 37.1,-28.4 Q17.7,-43.8 -13.2,-34.9 Q13.4,-53.5 12.8,-83.2Z" fill="#fcebd0" stroke="#f3c0aa" stroke-width="3.07" stroke-linejoin="round"/>
<circle cx="21.1" cy="-52.1" r="6.3" fill="#f4b890"/>
<path d="M-87.3,-29.0 Q-51.7,-28.2 -32.5,-49.1 Q-36.6,-33.5 -20.6,-38.7 Q-43.4,-20.1 -51.8,7.2 Q-55.2,-18.3 -87.3,-29.0Z" fill="#fcebd0" stroke="#f3c0aa" stroke-width="3.07" stroke-linejoin="round"/>
<circle cx="-48.8" cy="-20.9" r="6.3" fill="#f4b890"/>
<path d="M9.5,-33.8 Q2.3,-20.7 14.9,-23.9 Q-5.3,-4.7 -1.4,30.9 Q-15.5,-0.7 -42.9,-1.7 Q-13.5,-12.1 9.5,-33.8Z" fill="#fcebd0" stroke="#f3c0aa" stroke-width="3.07" stroke-linejoin="round"/>
<circle cx="-11.8" cy="-7.0" r="6.3" fill="#f4b890"/>
<path d="M34.1,-28.4 Q49.7,-11.9 78.6,-20.9 Q53.2,-2.7 53.9,22.9 Q47.3,12.7 43.0,30.9 Q43.4,-2.6 34.1,-28.4Z" fill="#fcebd0" stroke="#f3c0aa" stroke-width="3.07" stroke-linejoin="round"/>
<circle cx="43.0" cy="-3.2" r="6.3" fill="#f4b890"/>
<path d="M-28.0,16.1 Q-23.2,39.1 -1.4,54.6 Q-15.8,51.9 -7.3,69.4 Q-30.6,46.3 -63.6,42.7 Q-34.5,36.9 -28.0,16.1Z" fill="#fcebd0" stroke="#f3c0aa" stroke-width="3.07" stroke-linejoin="round"/>
<circle cx="-29.5" cy="42.1" r="6.3" fill="#f4b890"/>
<path d="M13.4,2.7 Q23.1,19.6 31.2,4.2 Q31.0,33.5 57.8,56.1 Q26.4,44.4 4.5,66.4 Q18.7,35.0 13.4,2.7Z" fill="#bf3a50" stroke="#b83a50" stroke-width="3.07" stroke-linejoin="round"/>
<circle cx="20.8" cy="37.4" r="6.3" fill="#a3223a"/>
</g>
<text x="84.3" y="309.3" font-size="11" text-anchor="middle" fill="#222" color="#222" >ICC staining</text>
<text x="84.3" y="320.3" font-size="11" text-anchor="middle" fill="#222" color="#222" >of S protein</text>
<circle cx="249.5" cy="23.9" r="2.6" fill="#a8a8a8" stroke="#2a2a2a" stroke-width="1.2"/>
<text x="270.3" y="28.2" font-size="12.4" text-anchor="start" fill="#111" color="#111" >Scramb-CpG-1-PTO</text>
<text x="403.3" y="28.2" font-size="12.4" text-anchor="start" fill="#111" color="#111" textLength="232.2" lengthAdjust="spacingAndGlyphs">5´- CTC TAG GAC TCT CTG GAC TT - 3´</text>
<circle cx="249.5" cy="37.6" r="2.6" fill="#f2a0a8" stroke="#6a1a28" stroke-width="1.2"/>
<text x="270.3" y="41.9" font-size="12.4" text-anchor="start" fill="#111" color="#111" >CpG-1-PTO</text>
<text x="403.3" y="41.9" font-size="12.4" text-anchor="start" fill="#111" color="#111" textLength="231.0" lengthAdjust="spacingAndGlyphs">5´- TCC ATG ACG TTC CTG ACG TT - 3´</text>
<circle cx="249.5" cy="53.0" r="2.6" fill="#d470f2" stroke="#3a0a4a" stroke-width="1.2"/>
<text x="270.3" y="57.3" font-size="12.4" text-anchor="start" fill="#111" color="#111" >GQ20-PTO</text>
<text x="403.3" y="57.3" font-size="12.4" text-anchor="start" fill="#111" color="#111" textLength="255.9" lengthAdjust="spacingAndGlyphs">5´- GGG GGG GGG GGG GGG GGG GG - 3´</text>
<circle cx="249.5" cy="67.3" r="2.6" fill="#f4b4ee" stroke="#4a1040" stroke-width="1.2"/>
<text x="270.3" y="71.6" font-size="12.4" text-anchor="start" fill="#111" color="#111" >n-CpG-5-PTO</text>
<text x="405.5" y="71.6" font-size="12.4" text-anchor="start" fill="#111" color="#111" textLength="240.7" lengthAdjust="spacingAndGlyphs">5´- CCC CCC CCC CCC CCC CCC CC - 3´</text>
<circle cx="249.5" cy="82.9" r="2.6" fill="#8484f0" stroke="#1a1a6a" stroke-width="1.2"/>
<text x="270.3" y="87.2" font-size="12.4" text-anchor="start" fill="#111" color="#111" >CpG-2118(KonA)</text>
<text x="405.5" y="87.2" font-size="12.4" text-anchor="start" fill="#111" color="#111" textLength="206.8" lengthAdjust="spacingAndGlyphs">5´- GGg gtc aag ctt gaG GGG Gg - 3´</text>
<circle cx="249.5" cy="98.1" r="2.6" fill="#a4ccf6" stroke="#1a3a5a" stroke-width="1.2"/>
<text x="270.3" y="102.4" font-size="12.4" text-anchor="start" fill="#111" color="#111" >n-CpG-3A-PTO</text>
<text x="406.5" y="102.4" font-size="12.4" text-anchor="start" fill="#111" color="#111" textLength="198.7" lengthAdjust="spacingAndGlyphs">5´- TTT TTT TTT TTT TTT TTT - 3´</text>
<circle cx="249.5" cy="113.3" r="2.6" fill="#e0f8f0" stroke="#1a3a2a" stroke-width="1.2"/>
<text x="270.3" y="117.6" font-size="12.4" text-anchor="start" fill="#111" color="#111" >Oblimersen</text>
<text x="403.3" y="117.6" font-size="12.4" text-anchor="start" fill="#111" color="#111" textLength="212.6" lengthAdjust="spacingAndGlyphs">5´- TCT CCC AGC GTG CGC CAT- 3´</text>
<line x1="238.3" y1="115.5" x2="238.3" y2="297.2" stroke="#111" stroke-width="1.3"/>
<line x1="233" y1="297.2" x2="653.3" y2="297.2" stroke="#111" stroke-width="1.3"/>
<line x1="233" y1="260.9" x2="238.3" y2="260.9" stroke="#111" stroke-width="1.3"/>
<line x1="233" y1="224.5" x2="238.3" y2="224.5" stroke="#111" stroke-width="1.3"/>
<line x1="233" y1="188.2" x2="238.3" y2="188.2" stroke="#111" stroke-width="1.3"/>
<line x1="233" y1="151.8" x2="238.3" y2="151.8" stroke="#111" stroke-width="1.3"/>
<line x1="233" y1="115.5" x2="238.3" y2="115.5" stroke="#111" stroke-width="1.3"/>
<text x="231.0" y="301.1" font-size="11" text-anchor="end" fill="#111" color="#111" >0</text>
<text x="231.0" y="264.8" font-size="11" text-anchor="end" fill="#111" color="#111" >25</text>
<text x="231.0" y="228.4" font-size="11" text-anchor="end" fill="#111" color="#111" >50</text>
<text x="231.0" y="192.1" font-size="11" text-anchor="end" fill="#111" color="#111" >75</text>
<text x="231.0" y="155.7" font-size="11" text-anchor="end" fill="#111" color="#111" >100</text>
<text x="231.0" y="119.4" font-size="11" text-anchor="end" fill="#111" color="#111" >125</text>
<text x="204.3" y="203.5" font-size="12.6" text-anchor="middle" fill="#111" color="#111" textLength="140.5" lengthAdjust="spacingAndGlyphs" transform="rotate(-90 204.3 203.5)">% of inhibition B.1 (Calu-3)</text>
<line x1="243.9" y1="297.2" x2="243.9" y2="301.7" stroke="#111" stroke-width="1.2"/>
<line x1="243.9" y1="287.8" x2="243.9" y2="284.4" stroke="#111" stroke-width="1"/>
<line x1="241.4" y1="284.4" x2="246.4" y2="284.4" stroke="#111" stroke-width="1"/>
<rect x="240.5" y="287.8" width="6.8" height="9.4" fill="#b4b4b4" stroke="#111" stroke-width="1.2"/>
<circle cx="242.3" cy="284.3" r="2.9" fill="#a8a8a8" stroke="#2a2a2a" stroke-width="1.1"/>
<circle cx="243.9" cy="290.8" r="2.9" fill="#a8a8a8" stroke="#2a2a2a" stroke-width="1.1"/>
<circle cx="245.5" cy="288.6" r="2.9" fill="#a8a8a8" stroke="#2a2a2a" stroke-width="1.1"/>
<text x="246.5" y="304.0" font-size="10.6" text-anchor="end" fill="#111" color="#111" transform="rotate(-90 246.5 304.0)">4</text>
<line x1="254.4" y1="297.2" x2="254.4" y2="301.7" stroke="#111" stroke-width="1.2"/>
<line x1="254.4" y1="280.3" x2="254.4" y2="274.2" stroke="#111" stroke-width="1"/>
<line x1="251.9" y1="274.2" x2="256.9" y2="274.2" stroke="#111" stroke-width="1"/>
<rect x="251.0" y="280.3" width="6.8" height="16.9" fill="#b4b4b4" stroke="#111" stroke-width="1.2"/>
<circle cx="255.6" cy="272.8" r="2.9" fill="#a8a8a8" stroke="#2a2a2a" stroke-width="1.1"/>
<circle cx="253.2" cy="282.5" r="2.9" fill="#a8a8a8" stroke="#2a2a2a" stroke-width="1.1"/>
<circle cx="254.4" cy="284.3" r="2.9" fill="#a8a8a8" stroke="#2a2a2a" stroke-width="1.1"/>
<text x="257.0" y="304.0" font-size="10.6" text-anchor="end" fill="#111" color="#111" transform="rotate(-90 257.0 304.0)">2</text>
<line x1="264.9" y1="297.2" x2="264.9" y2="301.7" stroke="#111" stroke-width="1.2"/>
<line x1="264.9" y1="282.1" x2="264.9" y2="275.8" stroke="#111" stroke-width="1"/>
<line x1="262.4" y1="275.8" x2="267.4" y2="275.8" stroke="#111" stroke-width="1"/>
<rect x="261.5" y="282.1" width="6.8" height="15.1" fill="#b4b4b4" stroke="#111" stroke-width="1.2"/>
<circle cx="264.9" cy="276.3" r="2.9" fill="#a8a8a8" stroke="#2a2a2a" stroke-width="1.1"/>
<circle cx="266.4" cy="280.8" r="2.9" fill="#a8a8a8" stroke="#2a2a2a" stroke-width="1.1"/>
<circle cx="263.4" cy="288.6" r="2.9" fill="#a8a8a8" stroke="#2a2a2a" stroke-width="1.1"/>
<text x="267.5" y="304.0" font-size="10.6" text-anchor="end" fill="#111" color="#111" transform="rotate(-90 267.5 304.0)">1</text>
<line x1="275.4" y1="297.2" x2="275.4" y2="301.7" stroke="#111" stroke-width="1.2"/>
<line x1="275.4" y1="281.5" x2="275.4" y2="275.2" stroke="#111" stroke-width="1"/>
<line x1="272.9" y1="275.2" x2="277.9" y2="275.2" stroke="#111" stroke-width="1"/>
<rect x="272.0" y="281.5" width="6.8" height="15.7" fill="#b4b4b4" stroke="#111" stroke-width="1.2"/>
<circle cx="273.8" cy="274.5" r="2.9" fill="#a8a8a8" stroke="#2a2a2a" stroke-width="1.1"/>
<circle cx="275.4" cy="284.3" r="2.9" fill="#a8a8a8" stroke="#2a2a2a" stroke-width="1.1"/>
<circle cx="277.0" cy="286.3" r="2.9" fill="#a8a8a8" stroke="#2a2a2a" stroke-width="1.1"/>
<text x="278.0" y="304.0" font-size="10.6" text-anchor="end" fill="#111" color="#111" transform="rotate(-90 278.0 304.0)">0.5</text>
<line x1="285.9" y1="297.2" x2="285.9" y2="301.7" stroke="#111" stroke-width="1.2"/>
<line x1="285.9" y1="281.5" x2="285.9" y2="277.4" stroke="#111" stroke-width="1"/>
<line x1="283.4" y1="277.4" x2="288.4" y2="277.4" stroke="#111" stroke-width="1"/>
<rect x="282.5" y="281.5" width="6.8" height="15.7" fill="#b4b4b4" stroke="#111" stroke-width="1.2"/>
<circle cx="287.1" cy="278.9" r="2.9" fill="#a8a8a8" stroke="#2a2a2a" stroke-width="1.1"/>
<circle cx="284.7" cy="279.8" r="2.9" fill="#a8a8a8" stroke="#2a2a2a" stroke-width="1.1"/>
<circle cx="285.9" cy="286.3" r="2.9" fill="#a8a8a8" stroke="#2a2a2a" stroke-width="1.1"/>
<text x="288.5" y="304.0" font-size="10.6" text-anchor="end" fill="#111" color="#111" transform="rotate(-90 288.5 304.0)">0.25</text>
<line x1="304.0" y1="297.2" x2="304.0" y2="301.7" stroke="#111" stroke-width="1.2"/>
<line x1="304.0" y1="277.1" x2="304.0" y2="267.2" stroke="#111" stroke-width="1"/>
<line x1="301.5" y1="267.2" x2="306.5" y2="267.2" stroke="#111" stroke-width="1"/>
<rect x="300.6" y="277.1" width="6.8" height="20.1" fill="#f4a4a8" stroke="#111" stroke-width="1.2"/>
<circle cx="305.2" cy="267.1" r="2.9" fill="#f2a0a8" stroke="#6a1a28" stroke-width="1.1"/>
<circle cx="302.8" cy="278.0" r="2.9" fill="#f2a0a8" stroke="#6a1a28" stroke-width="1.1"/>
<circle cx="304.0" cy="286.9" r="2.9" fill="#f2a0a8" stroke="#6a1a28" stroke-width="1.1"/>
<text x="306.6" y="304.0" font-size="10.6" text-anchor="end" fill="#111" color="#111" transform="rotate(-90 306.6 304.0)">4</text>
<line x1="314.5" y1="297.2" x2="314.5" y2="301.7" stroke="#111" stroke-width="1.2"/>
<line x1="314.5" y1="283.4" x2="314.5" y2="280.1" stroke="#111" stroke-width="1"/>
<line x1="312.0" y1="280.1" x2="317.0" y2="280.1" stroke="#111" stroke-width="1"/>
<rect x="311.1" y="283.4" width="6.8" height="13.8" fill="#f4a4a8" stroke="#111" stroke-width="1.2"/>
<circle cx="314.5" cy="280.8" r="2.9" fill="#f2a0a8" stroke="#6a1a28" stroke-width="1.1"/>
<circle cx="316.0" cy="281.9" r="2.9" fill="#f2a0a8" stroke="#6a1a28" stroke-width="1.1"/>
<circle cx="313.0" cy="286.9" r="2.9" fill="#f2a0a8" stroke="#6a1a28" stroke-width="1.1"/>
<text x="317.1" y="304.0" font-size="10.6" text-anchor="end" fill="#111" color="#111" transform="rotate(-90 317.1 304.0)">2</text>
<line x1="325.0" y1="297.2" x2="325.0" y2="301.7" stroke="#111" stroke-width="1.2"/>
<line x1="325.0" y1="270.6" x2="325.0" y2="264.2" stroke="#111" stroke-width="1"/>
<line x1="322.5" y1="264.2" x2="327.5" y2="264.2" stroke="#111" stroke-width="1"/>
<rect x="321.6" y="270.6" width="6.8" height="26.6" fill="#f4a4a8" stroke="#111" stroke-width="1.2"/>
<circle cx="323.4" cy="264.8" r="2.9" fill="#f2a0a8" stroke="#6a1a28" stroke-width="1.1"/>
<circle cx="325.0" cy="268.3" r="2.9" fill="#f2a0a8" stroke="#6a1a28" stroke-width="1.1"/>
<circle cx="326.6" cy="277.1" r="2.9" fill="#f2a0a8" stroke="#6a1a28" stroke-width="1.1"/>
<text x="327.6" y="304.0" font-size="10.6" text-anchor="end" fill="#111" color="#111" transform="rotate(-90 327.6 304.0)">1</text>
<line x1="335.5" y1="297.2" x2="335.5" y2="301.7" stroke="#111" stroke-width="1.2"/>
<line x1="335.5" y1="278.0" x2="335.5" y2="271.5" stroke="#111" stroke-width="1"/>
<line x1="333.0" y1="271.5" x2="338.0" y2="271.5" stroke="#111" stroke-width="1"/>
<rect x="332.1" y="278.0" width="6.8" height="19.2" fill="#f4a4a8" stroke="#111" stroke-width="1.2"/>
<circle cx="336.7" cy="273.5" r="2.9" fill="#f2a0a8" stroke="#6a1a28" stroke-width="1.1"/>
<circle cx="334.3" cy="275.4" r="2.9" fill="#f2a0a8" stroke="#6a1a28" stroke-width="1.1"/>
<circle cx="335.5" cy="285.6" r="2.9" fill="#f2a0a8" stroke="#6a1a28" stroke-width="1.1"/>
<text x="338.1" y="304.0" font-size="10.6" text-anchor="end" fill="#111" color="#111" transform="rotate(-90 338.1 304.0)">0.5</text>
<line x1="346.0" y1="297.2" x2="346.0" y2="301.7" stroke="#111" stroke-width="1.2"/>
<line x1="346.0" y1="276.6" x2="346.0" y2="268.5" stroke="#111" stroke-width="1"/>
<line x1="343.5" y1="268.5" x2="348.5" y2="268.5" stroke="#111" stroke-width="1"/>
<rect x="342.6" y="276.6" width="6.8" height="20.6" fill="#f4a4a8" stroke="#111" stroke-width="1.2"/>
<circle cx="346.0" cy="267.4" r="2.9" fill="#f2a0a8" stroke="#6a1a28" stroke-width="1.1"/>
<circle cx="347.5" cy="280.0" r="2.9" fill="#f2a0a8" stroke="#6a1a28" stroke-width="1.1"/>
<circle cx="344.5" cy="282.4" r="2.9" fill="#f2a0a8" stroke="#6a1a28" stroke-width="1.1"/>
<text x="348.6" y="304.0" font-size="10.6" text-anchor="end" fill="#111" color="#111" transform="rotate(-90 348.6 304.0)">0.25</text>
<line x1="364.0" y1="297.2" x2="364.0" y2="301.7" stroke="#111" stroke-width="1.2"/>
<rect x="360.6" y="151.4" width="6.8" height="145.8" fill="#e08af6" stroke="#111" stroke-width="1.2"/>
<circle cx="364.0" cy="149.7" r="2.9" fill="#d470f2" stroke="#3a0a4a" stroke-width="1.1"/>
<circle cx="365.5" cy="151.1" r="2.9" fill="#d470f2" stroke="#3a0a4a" stroke-width="1.1"/>
<circle cx="362.5" cy="149.2" r="2.9" fill="#d470f2" stroke="#3a0a4a" stroke-width="1.1"/>
<text x="366.6" y="304.0" font-size="10.6" text-anchor="end" fill="#111" color="#111" transform="rotate(-90 366.6 304.0)">4</text>
<line x1="374.5" y1="297.2" x2="374.5" y2="301.7" stroke="#111" stroke-width="1.2"/>
<rect x="371.1" y="151.1" width="6.8" height="146.1" fill="#e08af6" stroke="#111" stroke-width="1.2"/>
<circle cx="372.9" cy="148.9" r="2.9" fill="#d470f2" stroke="#3a0a4a" stroke-width="1.1"/>
<circle cx="374.5" cy="150.4" r="2.9" fill="#d470f2" stroke="#3a0a4a" stroke-width="1.1"/>
<circle cx="376.1" cy="150.7" r="2.9" fill="#d470f2" stroke="#3a0a4a" stroke-width="1.1"/>
<text x="377.1" y="304.0" font-size="10.6" text-anchor="end" fill="#111" color="#111" transform="rotate(-90 377.1 304.0)">2</text>
<line x1="385.0" y1="297.2" x2="385.0" y2="301.7" stroke="#111" stroke-width="1.2"/>
<line x1="385.0" y1="157.1" x2="385.0" y2="146.2" stroke="#111" stroke-width="1"/>
<line x1="382.5" y1="146.2" x2="387.5" y2="146.2" stroke="#111" stroke-width="1"/>
<rect x="381.6" y="157.1" width="6.8" height="140.1" fill="#e08af6" stroke="#111" stroke-width="1.2"/>
<circle cx="386.2" cy="148.5" r="2.9" fill="#d470f2" stroke="#3a0a4a" stroke-width="1.1"/>
<circle cx="383.8" cy="153.3" r="2.9" fill="#d470f2" stroke="#3a0a4a" stroke-width="1.1"/>
<circle cx="385.0" cy="169.3" r="2.9" fill="#d470f2" stroke="#3a0a4a" stroke-width="1.1"/>
<text x="387.6" y="304.0" font-size="10.6" text-anchor="end" fill="#111" color="#111" transform="rotate(-90 387.6 304.0)">1</text>
<line x1="395.5" y1="297.2" x2="395.5" y2="301.7" stroke="#111" stroke-width="1.2"/>
<line x1="395.5" y1="184.7" x2="395.5" y2="181.0" stroke="#111" stroke-width="1"/>
<line x1="393.0" y1="181.0" x2="398.0" y2="181.0" stroke="#111" stroke-width="1"/>
<rect x="392.1" y="184.7" width="6.8" height="112.5" fill="#e08af6" stroke="#111" stroke-width="1.2"/>
<circle cx="395.5" cy="181.6" r="2.9" fill="#d470f2" stroke="#3a0a4a" stroke-width="1.1"/>
<circle cx="397.0" cy="183.8" r="2.9" fill="#d470f2" stroke="#3a0a4a" stroke-width="1.1"/>
<circle cx="394.0" cy="188.9" r="2.9" fill="#d470f2" stroke="#3a0a4a" stroke-width="1.1"/>
<text x="398.1" y="304.0" font-size="10.6" text-anchor="end" fill="#111" color="#111" transform="rotate(-90 398.1 304.0)">0.5</text>
<line x1="406.0" y1="297.2" x2="406.0" y2="301.7" stroke="#111" stroke-width="1.2"/>
<line x1="406.0" y1="273.2" x2="406.0" y2="263.2" stroke="#111" stroke-width="1"/>
<line x1="403.5" y1="263.2" x2="408.5" y2="263.2" stroke="#111" stroke-width="1"/>
<rect x="402.6" y="273.2" width="6.8" height="24.0" fill="#e08af6" stroke="#111" stroke-width="1.2"/>
<circle cx="404.4" cy="265.2" r="2.9" fill="#d470f2" stroke="#3a0a4a" stroke-width="1.1"/>
<circle cx="406.0" cy="266.7" r="2.9" fill="#d470f2" stroke="#3a0a4a" stroke-width="1.1"/>
<circle cx="407.6" cy="283.2" r="2.9" fill="#d470f2" stroke="#3a0a4a" stroke-width="1.1"/>
<text x="408.6" y="304.0" font-size="10.6" text-anchor="end" fill="#111" color="#111" transform="rotate(-90 408.6 304.0)">0.25</text>
<line x1="424.1" y1="297.2" x2="424.1" y2="301.7" stroke="#111" stroke-width="1.2"/>
<line x1="424.1" y1="275.7" x2="424.1" y2="260.3" stroke="#111" stroke-width="1"/>
<line x1="421.6" y1="260.3" x2="426.6" y2="260.3" stroke="#111" stroke-width="1"/>
<rect x="420.7" y="275.7" width="6.8" height="21.5" fill="#f8c0f2" stroke="#111" stroke-width="1.2"/>
<circle cx="422.5" cy="258.0" r="2.9" fill="#f4b4ee" stroke="#4a1040" stroke-width="1.1"/>
<circle cx="424.1" cy="281.5" r="2.9" fill="#f4b4ee" stroke="#4a1040" stroke-width="1.1"/>
<circle cx="425.7" cy="286.9" r="2.9" fill="#f4b4ee" stroke="#4a1040" stroke-width="1.1"/>
<text x="426.7" y="304.0" font-size="10.6" text-anchor="end" fill="#111" color="#111" transform="rotate(-90 426.7 304.0)">4</text>
<line x1="434.6" y1="297.2" x2="434.6" y2="301.7" stroke="#111" stroke-width="1.2"/>
<line x1="434.6" y1="278.2" x2="434.6" y2="273.5" stroke="#111" stroke-width="1"/>
<line x1="432.1" y1="273.5" x2="437.1" y2="273.5" stroke="#111" stroke-width="1"/>
<rect x="431.2" y="278.2" width="6.8" height="19.0" fill="#f8c0f2" stroke="#111" stroke-width="1.2"/>
<circle cx="435.8" cy="272.3" r="2.9" fill="#f4b4ee" stroke="#4a1040" stroke-width="1.1"/>
<circle cx="433.4" cy="279.5" r="2.9" fill="#f4b4ee" stroke="#4a1040" stroke-width="1.1"/>
<circle cx="434.6" cy="281.2" r="2.9" fill="#f4b4ee" stroke="#4a1040" stroke-width="1.1"/>
<text x="437.2" y="304.0" font-size="10.6" text-anchor="end" fill="#111" color="#111" transform="rotate(-90 437.2 304.0)">2</text>
<line x1="445.1" y1="297.2" x2="445.1" y2="301.7" stroke="#111" stroke-width="1.2"/>
<line x1="445.1" y1="274.5" x2="445.1" y2="268.5" stroke="#111" stroke-width="1"/>
<line x1="442.6" y1="268.5" x2="447.6" y2="268.5" stroke="#111" stroke-width="1"/>
<rect x="441.7" y="274.5" width="6.8" height="22.7" fill="#f8c0f2" stroke="#111" stroke-width="1.2"/>
<circle cx="445.1" cy="267.8" r="2.9" fill="#f4b4ee" stroke="#4a1040" stroke-width="1.1"/>
<circle cx="446.6" cy="275.4" r="2.9" fill="#f4b4ee" stroke="#4a1040" stroke-width="1.1"/>
<circle cx="443.6" cy="279.8" r="2.9" fill="#f4b4ee" stroke="#4a1040" stroke-width="1.1"/>
<text x="447.7" y="304.0" font-size="10.6" text-anchor="end" fill="#111" color="#111" transform="rotate(-90 447.7 304.0)">1</text>
<line x1="455.6" y1="297.2" x2="455.6" y2="301.7" stroke="#111" stroke-width="1.2"/>
<line x1="455.6" y1="278.7" x2="455.6" y2="274.2" stroke="#111" stroke-width="1"/>
<line x1="453.1" y1="274.2" x2="458.1" y2="274.2" stroke="#111" stroke-width="1"/>
<rect x="452.2" y="278.7" width="6.8" height="18.5" fill="#f8c0f2" stroke="#111" stroke-width="1.2"/>
<circle cx="454.0" cy="274.2" r="2.9" fill="#f4b4ee" stroke="#4a1040" stroke-width="1.1"/>
<circle cx="455.6" cy="279.0" r="2.9" fill="#f4b4ee" stroke="#4a1040" stroke-width="1.1"/>
<circle cx="457.2" cy="283.2" r="2.9" fill="#f4b4ee" stroke="#4a1040" stroke-width="1.1"/>
<text x="458.2" y="304.0" font-size="10.6" text-anchor="end" fill="#111" color="#111" transform="rotate(-90 458.2 304.0)">0.5</text>
<line x1="466.1" y1="297.2" x2="466.1" y2="301.7" stroke="#111" stroke-width="1.2"/>
<rect x="462.7" y="279.2" width="6.8" height="18.0" fill="#f8c0f2" stroke="#111" stroke-width="1.2"/>
<circle cx="467.3" cy="277.0" r="2.9" fill="#f4b4ee" stroke="#4a1040" stroke-width="1.1"/>
<circle cx="464.9" cy="279.5" r="2.9" fill="#f4b4ee" stroke="#4a1040" stroke-width="1.1"/>
<circle cx="466.1" cy="279.8" r="2.9" fill="#f4b4ee" stroke="#4a1040" stroke-width="1.1"/>
<text x="468.7" y="304.0" font-size="10.6" text-anchor="end" fill="#111" color="#111" transform="rotate(-90 468.7 304.0)">0.25</text>
<line x1="484.2" y1="297.2" x2="484.2" y2="301.7" stroke="#111" stroke-width="1.2"/>
<line x1="484.2" y1="153.1" x2="484.2" y2="147.9" stroke="#111" stroke-width="1"/>
<line x1="481.7" y1="147.9" x2="486.7" y2="147.9" stroke="#111" stroke-width="1"/>
<rect x="480.8" y="153.1" width="6.8" height="144.1" fill="#8c8cf4" stroke="#111" stroke-width="1.2"/>
<circle cx="485.4" cy="149.5" r="2.9" fill="#8484f0" stroke="#1a1a6a" stroke-width="1.1"/>
<circle cx="483.0" cy="155.9" r="2.9" fill="#8484f0" stroke="#1a1a6a" stroke-width="1.1"/>
<circle cx="484.2" cy="160.0" r="2.9" fill="#8484f0" stroke="#1a1a6a" stroke-width="1.1"/>
<text x="486.8" y="304.0" font-size="10.6" text-anchor="end" fill="#111" color="#111" transform="rotate(-90 486.8 304.0)">4</text>
<line x1="494.7" y1="297.2" x2="494.7" y2="301.7" stroke="#111" stroke-width="1.2"/>
<line x1="494.7" y1="190.7" x2="494.7" y2="169.5" stroke="#111" stroke-width="1"/>
<line x1="492.2" y1="169.5" x2="497.2" y2="169.5" stroke="#111" stroke-width="1"/>
<rect x="491.3" y="190.7" width="6.8" height="106.5" fill="#8c8cf4" stroke="#111" stroke-width="1.2"/>
<circle cx="494.7" cy="164.9" r="2.9" fill="#8484f0" stroke="#1a1a6a" stroke-width="1.1"/>
<circle cx="496.2" cy="201.8" r="2.9" fill="#8484f0" stroke="#1a1a6a" stroke-width="1.1"/>
<circle cx="493.2" cy="201.3" r="2.9" fill="#8484f0" stroke="#1a1a6a" stroke-width="1.1"/>
<text x="497.3" y="304.0" font-size="10.6" text-anchor="end" fill="#111" color="#111" transform="rotate(-90 497.3 304.0)">2</text>
<line x1="505.2" y1="297.2" x2="505.2" y2="301.7" stroke="#111" stroke-width="1.2"/>
<line x1="505.2" y1="264.2" x2="505.2" y2="253.9" stroke="#111" stroke-width="1"/>
<line x1="502.7" y1="253.9" x2="507.7" y2="253.9" stroke="#111" stroke-width="1"/>
<rect x="501.8" y="264.2" width="6.8" height="33.0" fill="#8c8cf4" stroke="#111" stroke-width="1.2"/>
<circle cx="503.6" cy="256.1" r="2.9" fill="#8484f0" stroke="#1a1a6a" stroke-width="1.1"/>
<circle cx="505.2" cy="258.8" r="2.9" fill="#8484f0" stroke="#1a1a6a" stroke-width="1.1"/>
<circle cx="506.8" cy="275.1" r="2.9" fill="#8484f0" stroke="#1a1a6a" stroke-width="1.1"/>
<text x="507.8" y="304.0" font-size="10.6" text-anchor="end" fill="#111" color="#111" transform="rotate(-90 507.8 304.0)">1</text>
<line x1="515.7" y1="297.2" x2="515.7" y2="301.7" stroke="#111" stroke-width="1.2"/>
<line x1="515.7" y1="277.9" x2="515.7" y2="274.8" stroke="#111" stroke-width="1"/>
<line x1="513.2" y1="274.8" x2="518.2" y2="274.8" stroke="#111" stroke-width="1"/>
<rect x="512.3" y="277.9" width="6.8" height="19.3" fill="#8c8cf4" stroke="#111" stroke-width="1.2"/>
<circle cx="516.9" cy="274.2" r="2.9" fill="#8484f0" stroke="#1a1a6a" stroke-width="1.1"/>
<circle cx="514.5" cy="279.2" r="2.9" fill="#8484f0" stroke="#1a1a6a" stroke-width="1.1"/>
<circle cx="515.7" cy="279.8" r="2.9" fill="#8484f0" stroke="#1a1a6a" stroke-width="1.1"/>
<text x="518.3" y="304.0" font-size="10.6" text-anchor="end" fill="#111" color="#111" transform="rotate(-90 518.3 304.0)">0.5</text>
<line x1="526.2" y1="297.2" x2="526.2" y2="301.7" stroke="#111" stroke-width="1.2"/>
<line x1="526.2" y1="283.2" x2="526.2" y2="278.2" stroke="#111" stroke-width="1"/>
<line x1="523.7" y1="278.2" x2="528.7" y2="278.2" stroke="#111" stroke-width="1"/>
<rect x="522.8" y="283.2" width="6.8" height="14.0" fill="#8c8cf4" stroke="#111" stroke-width="1.2"/>
<circle cx="526.2" cy="278.7" r="2.9" fill="#8484f0" stroke="#1a1a6a" stroke-width="1.1"/>
<circle cx="527.7" cy="285.0" r="2.9" fill="#8484f0" stroke="#1a1a6a" stroke-width="1.1"/>
<circle cx="524.7" cy="288.6" r="2.9" fill="#8484f0" stroke="#1a1a6a" stroke-width="1.1"/>
<text x="528.8" y="304.0" font-size="10.6" text-anchor="end" fill="#111" color="#111" transform="rotate(-90 528.8 304.0)">0.25</text>
<line x1="544.2" y1="297.2" x2="544.2" y2="301.7" stroke="#111" stroke-width="1.2"/>
<line x1="544.2" y1="279.6" x2="544.2" y2="273.1" stroke="#111" stroke-width="1"/>
<line x1="541.8" y1="273.1" x2="546.8" y2="273.1" stroke="#111" stroke-width="1"/>
<rect x="540.9" y="279.6" width="6.8" height="17.6" fill="#a8d0f8" stroke="#111" stroke-width="1.2"/>
<circle cx="544.2" cy="272.8" r="2.9" fill="#a4ccf6" stroke="#1a3a5a" stroke-width="1.1"/>
<circle cx="545.8" cy="279.8" r="2.9" fill="#a4ccf6" stroke="#1a3a5a" stroke-width="1.1"/>
<circle cx="542.8" cy="285.9" r="2.9" fill="#a4ccf6" stroke="#1a3a5a" stroke-width="1.1"/>
<text x="546.9" y="304.0" font-size="10.6" text-anchor="end" fill="#111" color="#111" transform="rotate(-90 546.9 304.0)">4</text>
<line x1="554.8" y1="297.2" x2="554.8" y2="301.7" stroke="#111" stroke-width="1.2"/>
<line x1="554.8" y1="279.2" x2="554.8" y2="275.9" stroke="#111" stroke-width="1"/>
<line x1="552.2" y1="275.9" x2="557.2" y2="275.9" stroke="#111" stroke-width="1"/>
<rect x="551.4" y="279.2" width="6.8" height="18.0" fill="#a8d0f8" stroke="#111" stroke-width="1.2"/>
<circle cx="553.1" cy="276.0" r="2.9" fill="#a4ccf6" stroke="#1a3a5a" stroke-width="1.1"/>
<circle cx="554.8" cy="282.4" r="2.9" fill="#a4ccf6" stroke="#1a3a5a" stroke-width="1.1"/>
<circle cx="556.4" cy="280.5" r="2.9" fill="#a4ccf6" stroke="#1a3a5a" stroke-width="1.1"/>
<text x="557.4" y="304.0" font-size="10.6" text-anchor="end" fill="#111" color="#111" transform="rotate(-90 557.4 304.0)">2</text>
<line x1="565.2" y1="297.2" x2="565.2" y2="301.7" stroke="#111" stroke-width="1.2"/>
<line x1="565.2" y1="275.1" x2="565.2" y2="268.5" stroke="#111" stroke-width="1"/>
<line x1="562.8" y1="268.5" x2="567.8" y2="268.5" stroke="#111" stroke-width="1"/>
<rect x="561.9" y="275.1" width="6.8" height="22.1" fill="#a8d0f8" stroke="#111" stroke-width="1.2"/>
<circle cx="566.5" cy="269.1" r="2.9" fill="#a4ccf6" stroke="#1a3a5a" stroke-width="1.1"/>
<circle cx="564.0" cy="272.5" r="2.9" fill="#a4ccf6" stroke="#1a3a5a" stroke-width="1.1"/>
<circle cx="565.2" cy="281.9" r="2.9" fill="#a4ccf6" stroke="#1a3a5a" stroke-width="1.1"/>
<text x="567.9" y="304.0" font-size="10.6" text-anchor="end" fill="#111" color="#111" transform="rotate(-90 567.9 304.0)">1</text>
<line x1="575.8" y1="297.2" x2="575.8" y2="301.7" stroke="#111" stroke-width="1.2"/>
<line x1="575.8" y1="276.8" x2="575.8" y2="270.5" stroke="#111" stroke-width="1"/>
<line x1="573.2" y1="270.5" x2="578.2" y2="270.5" stroke="#111" stroke-width="1"/>
<rect x="572.4" y="276.8" width="6.8" height="20.4" fill="#a8d0f8" stroke="#111" stroke-width="1.2"/>
<circle cx="575.8" cy="269.6" r="2.9" fill="#a4ccf6" stroke="#1a3a5a" stroke-width="1.1"/>
<circle cx="577.2" cy="279.5" r="2.9" fill="#a4ccf6" stroke="#1a3a5a" stroke-width="1.1"/>
<circle cx="574.2" cy="281.5" r="2.9" fill="#a4ccf6" stroke="#1a3a5a" stroke-width="1.1"/>
<text x="578.4" y="304.0" font-size="10.6" text-anchor="end" fill="#111" color="#111" transform="rotate(-90 578.4 304.0)">0.5</text>
<line x1="586.2" y1="297.2" x2="586.2" y2="301.7" stroke="#111" stroke-width="1.2"/>
<line x1="586.2" y1="278.2" x2="586.2" y2="272.9" stroke="#111" stroke-width="1"/>
<line x1="583.8" y1="272.9" x2="588.8" y2="272.9" stroke="#111" stroke-width="1"/>
<rect x="582.9" y="278.2" width="6.8" height="19.0" fill="#a8d0f8" stroke="#111" stroke-width="1.2"/>
<circle cx="584.6" cy="271.0" r="2.9" fill="#a4ccf6" stroke="#1a3a5a" stroke-width="1.1"/>
<circle cx="586.2" cy="279.8" r="2.9" fill="#a4ccf6" stroke="#1a3a5a" stroke-width="1.1"/>
<circle cx="587.9" cy="280.5" r="2.9" fill="#a4ccf6" stroke="#1a3a5a" stroke-width="1.1"/>
<text x="588.9" y="304.0" font-size="10.6" text-anchor="end" fill="#111" color="#111" transform="rotate(-90 588.9 304.0)">0.25</text>
<line x1="604.3" y1="297.2" x2="604.3" y2="301.7" stroke="#111" stroke-width="1.2"/>
<line x1="604.3" y1="280.6" x2="604.3" y2="276.6" stroke="#111" stroke-width="1"/>
<line x1="601.8" y1="276.6" x2="606.8" y2="276.6" stroke="#111" stroke-width="1"/>
<rect x="600.9" y="280.6" width="6.8" height="16.6" fill="#d8f6ea" stroke="#111" stroke-width="1.2"/>
<circle cx="602.7" cy="277.4" r="2.9" fill="#e0f8f0" stroke="#1a3a2a" stroke-width="1.1"/>
<circle cx="604.3" cy="279.0" r="2.9" fill="#e0f8f0" stroke="#1a3a2a" stroke-width="1.1"/>
<circle cx="605.9" cy="285.0" r="2.9" fill="#e0f8f0" stroke="#1a3a2a" stroke-width="1.1"/>
<text x="606.9" y="304.0" font-size="10.6" text-anchor="end" fill="#111" color="#111" transform="rotate(-90 606.9 304.0)">4</text>
<line x1="614.8" y1="297.2" x2="614.8" y2="301.7" stroke="#111" stroke-width="1.2"/>
<line x1="614.8" y1="279.2" x2="614.8" y2="272.2" stroke="#111" stroke-width="1"/>
<line x1="612.3" y1="272.2" x2="617.3" y2="272.2" stroke="#111" stroke-width="1"/>
<rect x="611.4" y="279.2" width="6.8" height="18.0" fill="#d8f6ea" stroke="#111" stroke-width="1.2"/>
<circle cx="616.0" cy="271.9" r="2.9" fill="#e0f8f0" stroke="#1a3a2a" stroke-width="1.1"/>
<circle cx="613.6" cy="279.9" r="2.9" fill="#e0f8f0" stroke="#1a3a2a" stroke-width="1.1"/>
<circle cx="614.8" cy="285.7" r="2.9" fill="#e0f8f0" stroke="#1a3a2a" stroke-width="1.1"/>
<text x="617.4" y="304.0" font-size="10.6" text-anchor="end" fill="#111" color="#111" transform="rotate(-90 617.4 304.0)">2</text>
<line x1="625.3" y1="297.2" x2="625.3" y2="301.7" stroke="#111" stroke-width="1.2"/>
<line x1="625.3" y1="274.1" x2="625.3" y2="269.0" stroke="#111" stroke-width="1"/>
<line x1="622.8" y1="269.0" x2="627.8" y2="269.0" stroke="#111" stroke-width="1"/>
<rect x="621.9" y="274.1" width="6.8" height="23.1" fill="#d8f6ea" stroke="#111" stroke-width="1.2"/>
<circle cx="625.3" cy="267.8" r="2.9" fill="#e0f8f0" stroke="#1a3a2a" stroke-width="1.1"/>
<circle cx="626.8" cy="276.3" r="2.9" fill="#e0f8f0" stroke="#1a3a2a" stroke-width="1.1"/>
<circle cx="623.8" cy="276.8" r="2.9" fill="#e0f8f0" stroke="#1a3a2a" stroke-width="1.1"/>
<text x="627.9" y="304.0" font-size="10.6" text-anchor="end" fill="#111" color="#111" transform="rotate(-90 627.9 304.0)">1</text>
<line x1="635.8" y1="297.2" x2="635.8" y2="301.7" stroke="#111" stroke-width="1.2"/>
<line x1="635.8" y1="274.8" x2="635.8" y2="271.3" stroke="#111" stroke-width="1"/>
<line x1="633.3" y1="271.3" x2="638.3" y2="271.3" stroke="#111" stroke-width="1"/>
<rect x="632.4" y="274.8" width="6.8" height="22.4" fill="#d8f6ea" stroke="#111" stroke-width="1.2"/>
<circle cx="634.2" cy="269.0" r="2.9" fill="#e0f8f0" stroke="#1a3a2a" stroke-width="1.1"/>
<circle cx="635.8" cy="271.9" r="2.9" fill="#e0f8f0" stroke="#1a3a2a" stroke-width="1.1"/>
<circle cx="637.4" cy="276.0" r="2.9" fill="#e0f8f0" stroke="#1a3a2a" stroke-width="1.1"/>
<text x="638.4" y="304.0" font-size="10.6" text-anchor="end" fill="#111" color="#111" transform="rotate(-90 638.4 304.0)">0.5</text>
<line x1="646.3" y1="297.2" x2="646.3" y2="301.7" stroke="#111" stroke-width="1.2"/>
<line x1="646.3" y1="274.8" x2="646.3" y2="266.4" stroke="#111" stroke-width="1"/>
<line x1="643.8" y1="266.4" x2="648.8" y2="266.4" stroke="#111" stroke-width="1"/>
<rect x="642.9" y="274.8" width="6.8" height="22.4" fill="#d8f6ea" stroke="#111" stroke-width="1.2"/>
<circle cx="647.5" cy="265.4" r="2.9" fill="#e0f8f0" stroke="#1a3a2a" stroke-width="1.1"/>
<circle cx="645.1" cy="277.4" r="2.9" fill="#e0f8f0" stroke="#1a3a2a" stroke-width="1.1"/>
<circle cx="646.3" cy="281.5" r="2.9" fill="#e0f8f0" stroke="#1a3a2a" stroke-width="1.1"/>
<text x="648.9" y="304.0" font-size="10.6" text-anchor="end" fill="#111" color="#111" transform="rotate(-90 648.9 304.0)">0.25</text>
<text x="657.3" y="309.2" font-size="12.2" text-anchor="start" fill="#111" color="#111" >(µM)</text>
<text x="122.8" y="361.8" font-size="11" text-anchor="start" fill="#222" color="#222" >Length dependency</text>
<line x1="38" y1="366" x2="325" y2="366" stroke="#333" stroke-width="1.7" stroke-dasharray="1.7 2.5"/>
<text x="33.9" y="380.4" font-size="10.6" text-anchor="start" fill="#222" color="#222" >GQ20-PTO</text>
<text x="107.7" y="380.4" font-size="10.6" text-anchor="start" fill="#222" color="#222" >5´-</text>
<rect x="123.5" y="368.3" width="177" height="18.2" fill="#c196dc" stroke="#a66cc4" stroke-width="1"/>
<text x="126.6" y="381.2" font-size="12.2" fill="#24143a" color="#24143a" textLength="170.7" lengthAdjust="spacingAndGlyphs" style="stroke-width:0.4px">GGG GGG GGG GGG GGG GGG GG</text>
<text x="302.8" y="380.4" font-size="10.6" text-anchor="start" fill="#222" color="#222" >-3´</text>
<text x="33.9" y="401.9" font-size="10.6" text-anchor="start" fill="#222" color="#222" >GQ12-PTO</text>
<text x="107.7" y="401.9" font-size="10.6" text-anchor="start" fill="#222" color="#222" >5´-</text>
<rect x="123.5" y="390.3" width="110" height="17.6" fill="#f9c6ea" stroke="#ee98cf" stroke-width="1"/>
<text x="127.5" y="402.7" font-size="12.2" fill="#3a0f22" color="#3a0f22" textLength="101.5" lengthAdjust="spacingAndGlyphs" style="stroke-width:0.4px">GGG GGG GGG GGG</text>
<text x="236.2" y="401.9" font-size="10.6" text-anchor="start" fill="#222" color="#222" >-3´</text>
<text x="33.9" y="423.4" font-size="10.6" text-anchor="start" fill="#222" color="#222" >GQ6-PTO</text>
<text x="108.8" y="423.4" font-size="10.6" text-anchor="start" fill="#222" color="#222" >5´-</text>
<rect x="124" y="411.5" width="58.3" height="18.0" fill="#f3a2d4" stroke="#e272b6" stroke-width="1"/>
<text x="128" y="424.2" font-size="12.2" fill="#3a0f22" color="#3a0f22" textLength="49" lengthAdjust="spacingAndGlyphs" style="stroke-width:0.4px">GGG GGG</text>
<text x="187.6" y="423.4" font-size="10.6" text-anchor="start" fill="#222" color="#222" >-3´</text>
<text x="53.4" y="464.2" font-size="10.2" text-anchor="middle" fill="#111" color="#111" >mock</text>
<text x="95.8" y="464.2" font-size="10.2" text-anchor="middle" fill="#111" color="#111" >B.1</text>
<text x="138.3" y="464.2" font-size="10.2" text-anchor="middle" fill="#111" color="#111" >4</text>
<text x="180.8" y="464.2" font-size="10.2" text-anchor="middle" fill="#111" color="#111" >1</text>
<text x="223.2" y="464.2" font-size="10.2" text-anchor="middle" fill="#111" color="#111" >0.5</text>
<text x="265.6" y="464.2" font-size="10.2" text-anchor="middle" fill="#111" color="#111" >0.25</text>
<text x="308.1" y="464.2" font-size="10.2" text-anchor="middle" fill="#111" color="#111" >0.125</text>
<text x="350.6" y="464.2" font-size="10.2" text-anchor="middle" fill="#111" color="#111" >0.0625</text>
<line x1="135.6" y1="451.7" x2="350.8" y2="451.7" stroke="#b4b4b4" stroke-width="1.3"/>
<text x="257.0" y="448.4" font-size="10.2" text-anchor="middle" fill="#111" color="#111" >GQ-PTO (µM)</text>
<rect x="33.1" y="468.9" width="41.0" height="41.0" fill="url(#wsq)"/>
<circle cx="52.5" cy="490.5" r="20.6" fill="url(#wring)"/>
<circle cx="52.5" cy="490.5" r="17.8" fill="#fcfdfa"/>
<circle cx="52.5" cy="490.5" r="17.8" fill="none" stroke="#48412f" stroke-width="1.4"/>
<rect x="75.5" y="468.9" width="41.0" height="41.0" fill="url(#wsq)"/>
<circle cx="94.9" cy="490.5" r="20.6" fill="url(#wring)"/>
<circle cx="94.9" cy="490.5" r="17.8" fill="#f6ebdf"/>
<circle cx="94.9" cy="490.5" r="17.8" fill="#dcb496" filter="url(#fc11)"/>
<circle cx="94.9" cy="490.5" r="17.8" fill="none" stroke="#48412f" stroke-width="1.4"/>
<rect x="117.9" y="468.9" width="41.0" height="41.0" fill="url(#wsq)"/>
<circle cx="137.3" cy="490.5" r="20.6" fill="url(#wring)"/>
<circle cx="137.3" cy="490.5" r="17.8" fill="#fcfdfa"/>
<circle cx="137.3" cy="490.5" r="17.8" fill="none" stroke="#48412f" stroke-width="1.4"/>
<rect x="160.3" y="468.9" width="41.0" height="41.0" fill="url(#wsq)"/>
<circle cx="179.7" cy="490.5" r="20.6" fill="url(#wring)"/>
<circle cx="179.7" cy="490.5" r="17.8" fill="#fcfdfa"/>
<circle cx="179.7" cy="490.5" r="17.8" fill="none" stroke="#48412f" stroke-width="1.4"/>
<rect x="202.7" y="468.9" width="41.0" height="41.0" fill="url(#wsq)"/>
<circle cx="222.1" cy="490.5" r="20.6" fill="url(#wring)"/>
<circle cx="222.1" cy="490.5" r="17.8" fill="#fcfbfa"/>
<circle cx="222.1" cy="490.5" r="17.8" fill="#dcb496" filter="url(#fc1)"/>
<circle cx="222.1" cy="490.5" r="17.8" fill="none" stroke="#48412f" stroke-width="1.4"/>
<rect x="245.1" y="468.9" width="41.0" height="41.0" fill="url(#wsq)"/>
<circle cx="264.5" cy="490.5" r="20.6" fill="url(#wring)"/>
<circle cx="264.5" cy="490.5" r="17.8" fill="#f9f4ee"/>
<circle cx="264.5" cy="490.5" r="17.8" fill="#dcb496" filter="url(#fc5)"/>
<circle cx="264.5" cy="490.5" r="17.8" fill="none" stroke="#48412f" stroke-width="1.4"/>
<rect x="287.5" y="468.9" width="41.0" height="41.0" fill="url(#wsq)"/>
<circle cx="306.9" cy="490.5" r="20.6" fill="url(#wring)"/>
<circle cx="306.9" cy="490.5" r="17.8" fill="#f7ede2"/>
<circle cx="306.9" cy="490.5" r="17.8" fill="#dcb496" filter="url(#fc10)"/>
<circle cx="306.9" cy="490.5" r="17.8" fill="none" stroke="#48412f" stroke-width="1.4"/>
<rect x="329.9" y="468.9" width="41.0" height="41.0" fill="url(#wsq)"/>
<circle cx="349.3" cy="490.5" r="20.6" fill="url(#wring)"/>
<circle cx="349.3" cy="490.5" r="17.8" fill="#f7ece0"/>
<circle cx="349.3" cy="490.5" r="17.8" fill="#dcb496" filter="url(#fc11)"/>
<circle cx="349.3" cy="490.5" r="17.8" fill="none" stroke="#48412f" stroke-width="1.4"/>
<rect x="33.1" y="511.5" width="41.0" height="41.0" fill="url(#wsq)"/>
<circle cx="52.5" cy="533.1" r="20.6" fill="url(#wring)"/>
<circle cx="52.5" cy="533.1" r="17.8" fill="#fcfdfa"/>
<circle cx="52.5" cy="533.1" r="17.8" fill="none" stroke="#48412f" stroke-width="1.4"/>
<rect x="75.5" y="511.5" width="41.0" height="41.0" fill="url(#wsq)"/>
<circle cx="94.9" cy="533.1" r="20.6" fill="url(#wring)"/>
<circle cx="94.9" cy="533.1" r="17.8" fill="#f6ebdf"/>
<circle cx="94.9" cy="533.1" r="17.8" fill="#dcb496" filter="url(#fc11)"/>
<circle cx="94.9" cy="533.1" r="17.8" fill="none" stroke="#48412f" stroke-width="1.4"/>
<rect x="117.9" y="511.5" width="41.0" height="41.0" fill="url(#wsq)"/>
<circle cx="137.3" cy="533.1" r="20.6" fill="url(#wring)"/>
<circle cx="137.3" cy="533.1" r="17.8" fill="#fcfdfa"/>
<circle cx="137.3" cy="533.1" r="17.8" fill="none" stroke="#48412f" stroke-width="1.4"/>
<rect x="160.3" y="511.5" width="41.0" height="41.0" fill="url(#wsq)"/>
<circle cx="179.7" cy="533.1" r="20.6" fill="url(#wring)"/>
<circle cx="179.7" cy="533.1" r="17.8" fill="#fcfdfa"/>
<circle cx="179.7" cy="533.1" r="17.8" fill="none" stroke="#48412f" stroke-width="1.4"/>
<rect x="202.7" y="511.5" width="41.0" height="41.0" fill="url(#wsq)"/>
<circle cx="222.1" cy="533.1" r="20.6" fill="url(#wring)"/>
<circle cx="222.1" cy="533.1" r="17.8" fill="#f9f2eb"/>
<circle cx="222.1" cy="533.1" r="17.8" fill="#dcb496" filter="url(#fc7)"/>
<circle cx="222.1" cy="533.1" r="17.8" fill="none" stroke="#48412f" stroke-width="1.4"/>
<rect x="245.1" y="511.5" width="41.0" height="41.0" fill="url(#wsq)"/>
<circle cx="264.5" cy="533.1" r="20.6" fill="url(#wring)"/>
<circle cx="264.5" cy="533.1" r="17.8" fill="#f8eee5"/>
<circle cx="264.5" cy="533.1" r="17.8" fill="#dcb496" filter="url(#fc9)"/>
<circle cx="264.5" cy="533.1" r="17.8" fill="none" stroke="#48412f" stroke-width="1.4"/>
<rect x="287.5" y="511.5" width="41.0" height="41.0" fill="url(#wsq)"/>
<circle cx="306.9" cy="533.1" r="20.6" fill="url(#wring)"/>
<circle cx="306.9" cy="533.1" r="17.8" fill="#f7ede2"/>
<circle cx="306.9" cy="533.1" r="17.8" fill="#dcb496" filter="url(#fc10)"/>
<circle cx="306.9" cy="533.1" r="17.8" fill="none" stroke="#48412f" stroke-width="1.4"/>
<rect x="329.9" y="511.5" width="41.0" height="41.0" fill="url(#wsq)"/>
<circle cx="349.3" cy="533.1" r="20.6" fill="url(#wring)"/>
<circle cx="349.3" cy="533.1" r="17.8" fill="#f7ece0"/>
<circle cx="349.3" cy="533.1" r="17.8" fill="#dcb496" filter="url(#fc11)"/>
<circle cx="349.3" cy="533.1" r="17.8" fill="none" stroke="#48412f" stroke-width="1.4"/>
<rect x="33.1" y="554.3" width="41.0" height="41.0" fill="url(#wsq)"/>
<circle cx="52.5" cy="575.9" r="20.6" fill="url(#wring)"/>
<circle cx="52.5" cy="575.9" r="17.8" fill="#fcfdfa"/>
<circle cx="52.5" cy="575.9" r="17.8" fill="none" stroke="#48412f" stroke-width="1.4"/>
<rect x="75.5" y="554.3" width="41.0" height="41.0" fill="url(#wsq)"/>
<circle cx="94.9" cy="575.9" r="20.6" fill="url(#wring)"/>
<circle cx="94.9" cy="575.9" r="17.8" fill="#f6ebdf"/>
<circle cx="94.9" cy="575.9" r="17.8" fill="#dcb496" filter="url(#fc11)"/>
<circle cx="94.9" cy="575.9" r="17.8" fill="none" stroke="#48412f" stroke-width="1.4"/>
<rect x="117.9" y="554.3" width="41.0" height="41.0" fill="url(#wsq)"/>
<circle cx="137.3" cy="575.9" r="20.6" fill="url(#wring)"/>
<circle cx="137.3" cy="575.9" r="17.8" fill="#fcfbfa"/>
<circle cx="137.3" cy="575.9" r="17.8" fill="#dcb496" filter="url(#fc1)"/>
<circle cx="137.3" cy="575.9" r="17.8" fill="none" stroke="#48412f" stroke-width="1.4"/>
<rect x="160.3" y="554.3" width="41.0" height="41.0" fill="url(#wsq)"/>
<circle cx="179.7" cy="575.9" r="20.6" fill="url(#wring)"/>
<circle cx="179.7" cy="575.9" r="17.8" fill="#faf7f3"/>
<circle cx="179.7" cy="575.9" r="17.8" fill="#dcb496" filter="url(#fc4)"/>
<circle cx="179.7" cy="575.9" r="17.8" fill="none" stroke="#48412f" stroke-width="1.4"/>
<rect x="202.7" y="554.3" width="41.0" height="41.0" fill="url(#wsq)"/>
<circle cx="222.1" cy="575.9" r="20.6" fill="url(#wring)"/>
<circle cx="222.1" cy="575.9" r="17.8" fill="#f8eee5"/>
<circle cx="222.1" cy="575.9" r="17.8" fill="#dcb496" filter="url(#fc9)"/>
<circle cx="222.1" cy="575.9" r="17.8" fill="none" stroke="#48412f" stroke-width="1.4"/>
<rect x="245.1" y="554.3" width="41.0" height="41.0" fill="url(#wsq)"/>
<circle cx="264.5" cy="575.9" r="20.6" fill="url(#wring)"/>
<circle cx="264.5" cy="575.9" r="17.8" fill="#f7ede2"/>
<circle cx="264.5" cy="575.9" r="17.8" fill="#dcb496" filter="url(#fc10)"/>
<circle cx="264.5" cy="575.9" r="17.8" fill="none" stroke="#48412f" stroke-width="1.4"/>
<rect x="287.5" y="554.3" width="41.0" height="41.0" fill="url(#wsq)"/>
<circle cx="306.9" cy="575.9" r="20.6" fill="url(#wring)"/>
<circle cx="306.9" cy="575.9" r="17.8" fill="#f7ede2"/>
<circle cx="306.9" cy="575.9" r="17.8" fill="#dcb496" filter="url(#fc10)"/>
<circle cx="306.9" cy="575.9" r="17.8" fill="none" stroke="#48412f" stroke-width="1.4"/>
<rect x="329.9" y="554.3" width="41.0" height="41.0" fill="url(#wsq)"/>
<circle cx="349.3" cy="575.9" r="20.6" fill="url(#wring)"/>
<circle cx="349.3" cy="575.9" r="17.8" fill="#f7ede2"/>
<circle cx="349.3" cy="575.9" r="17.8" fill="#dcb496" filter="url(#fc10)"/>
<circle cx="349.3" cy="575.9" r="17.8" fill="none" stroke="#48412f" stroke-width="1.4"/>
<text x="372.2" y="493.6" font-size="10.2" text-anchor="start" fill="#111" color="#111" >G20</text>
<text x="372.2" y="536.6" font-size="10.2" text-anchor="start" fill="#111" color="#111" >G12</text>
<text x="372.2" y="578.6" font-size="10.2" text-anchor="start" fill="#111" color="#111" >G6</text>
<line x1="474.5" y1="387.3" x2="474.5" y2="565.2" stroke="#111" stroke-width="1.3"/>
<line x1="467.5" y1="565.2" x2="653.5" y2="565.2" stroke="#111" stroke-width="1.3"/>
<line x1="467.5" y1="387.3" x2="474.5" y2="387.3" stroke="#111" stroke-width="1.3"/>
<text x="464.8" y="390.2" font-size="12.2" text-anchor="end" fill="#111" color="#111" textLength="19.2" lengthAdjust="spacingAndGlyphs">150</text>
<line x1="467.5" y1="431.8" x2="474.5" y2="431.8" stroke="#111" stroke-width="1.3"/>
<text x="464.8" y="434.7" font-size="12.2" text-anchor="end" fill="#111" color="#111" textLength="19.2" lengthAdjust="spacingAndGlyphs">100</text>
<line x1="467.5" y1="476.2" x2="474.5" y2="476.2" stroke="#111" stroke-width="1.3"/>
<text x="464.8" y="479.1" font-size="12.2" text-anchor="end" fill="#111" color="#111" textLength="12.8" lengthAdjust="spacingAndGlyphs">50</text>
<line x1="467.5" y1="520.7" x2="474.5" y2="520.7" stroke="#111" stroke-width="1.3"/>
<text x="464.8" y="523.6" font-size="12.2" text-anchor="end" fill="#111" color="#111" textLength="6.4" lengthAdjust="spacingAndGlyphs">0</text>
<line x1="467.5" y1="565.2" x2="474.5" y2="565.2" stroke="#111" stroke-width="1.3"/>
<text x="464.8" y="568.1" font-size="12.2" text-anchor="end" fill="#111" color="#111" textLength="16.6" lengthAdjust="spacingAndGlyphs">-50</text>
<line x1="474.5" y1="565.2" x2="474.5" y2="572.2" stroke="#111" stroke-width="1.3"/>
<text x="474.5" y="585.5" font-size="12.2" text-anchor="middle" fill="#111" color="#111" textLength="20.0" lengthAdjust="spacingAndGlyphs">-1.0</text>
<line x1="519.2" y1="565.2" x2="519.2" y2="572.2" stroke="#111" stroke-width="1.3"/>
<text x="519.2" y="585.5" font-size="12.2" text-anchor="middle" fill="#111" color="#111" textLength="20.0" lengthAdjust="spacingAndGlyphs">-0.5</text>
<line x1="564.0" y1="565.2" x2="564.0" y2="572.2" stroke="#111" stroke-width="1.3"/>
<text x="564.0" y="585.5" font-size="12.2" text-anchor="middle" fill="#111" color="#111" textLength="16.1" lengthAdjust="spacingAndGlyphs">0.0</text>
<line x1="608.8" y1="565.2" x2="608.8" y2="572.2" stroke="#111" stroke-width="1.3"/>
<text x="608.8" y="585.5" font-size="12.2" text-anchor="middle" fill="#111" color="#111" textLength="16.1" lengthAdjust="spacingAndGlyphs">0.5</text>
<line x1="653.5" y1="565.2" x2="653.5" y2="572.2" stroke="#111" stroke-width="1.3"/>
<text x="653.5" y="585.5" font-size="12.2" text-anchor="middle" fill="#111" color="#111" textLength="16.1" lengthAdjust="spacingAndGlyphs">1.0</text>
<text x="563.5" y="602.4" font-size="12.4" text-anchor="middle" fill="#111" color="#111" textLength="122" lengthAdjust="spacingAndGlyphs">log concentration (µM)</text>
<text x="437.5" y="474.8" font-size="12.6" text-anchor="middle" fill="#111" color="#111" textLength="140.5" lengthAdjust="spacingAndGlyphs" transform="rotate(-90 437.5 474.8)">% of inhibition B.1 (Calu-3)</text>
<line x1="477.5" y1="520.7" x2="652.5" y2="520.7" stroke="#111" stroke-width="1.8" stroke-dasharray="1.8 3.6"/>
<polyline points="483.2,520.2 484.9,520.1 486.5,520.0 488.2,519.9 489.9,519.7 491.6,519.6 493.3,519.4 495.0,519.2 496.7,518.9 498.3,518.7 500.0,518.3 501.7,517.9 503.4,517.5 505.1,517.0 506.8,516.4 508.4,515.8 510.1,515.0 511.8,514.1 513.5,513.1 515.2,512.0 516.9,510.8 518.5,509.3 520.2,507.7 521.9,506.0 523.6,504.0 525.3,501.8 527.0,499.5 528.6,496.9 530.3,494.2 532.0,491.3 533.7,488.2 535.4,485.1 537.1,481.8 538.7,478.4 540.4,475.1 542.1,471.7 543.8,468.4 545.5,465.2 547.2,462.1 548.8,459.1 550.5,456.3 552.2,453.7 553.9,451.3 555.6,449.1 557.3,447.1 558.9,445.3 560.6,443.6 562.3,442.2 564.0,440.8 565.7,439.7 567.4,438.7 569.1,437.8 570.7,437.0 572.4,436.3 574.1,435.7 575.8,435.1 577.5,434.7 579.2,434.3 580.8,433.9 582.5,433.6 584.2,433.4 585.9,433.2 587.6,433.0 589.3,432.8 590.9,432.7 592.6,432.5 594.3,432.4 596.0,432.3 597.7,432.3 599.4,432.2 601.0,432.1 602.7,432.1 604.4,432.0 606.1,432.0 607.8,432.0 609.5,431.9 611.1,431.9 612.8,431.9 614.5,431.9 616.2,431.9 617.9,431.9" fill="none" stroke="#222" stroke-width="1"/>
<polyline points="483.2,520.5 484.9,520.4 486.5,520.4 488.2,520.3 489.9,520.3 491.6,520.2 493.3,520.1 495.0,520.0 496.7,519.9 498.3,519.8 500.0,519.7 501.7,519.5 503.4,519.4 505.1,519.1 506.8,518.9 508.4,518.6 510.1,518.3 511.8,518.0 513.5,517.6 515.2,517.1 516.9,516.6 518.5,516.0 520.2,515.3 521.9,514.5 523.6,513.6 525.3,512.6 527.0,511.5 528.6,510.3 530.3,508.9 532.0,507.3 533.7,505.6 535.4,503.7 537.1,501.7 538.7,499.4 540.4,497.0 542.1,494.5 543.8,491.8 545.5,488.9 547.2,485.9 548.8,482.8 550.5,479.7 552.2,476.5 553.9,473.4 555.6,470.2 557.3,467.1 558.9,464.1 560.6,461.3 562.3,458.5 564.0,455.9 565.7,453.5 567.4,451.2 569.1,449.1 570.7,447.2 572.4,445.5 574.1,443.9 575.8,442.5 577.5,441.2 579.2,440.1 580.8,439.1 582.5,438.2 584.2,437.4 585.9,436.7 587.6,436.0 589.3,435.5 590.9,435.0 592.6,434.6 594.3,434.2 596.0,433.9 597.7,433.6 599.4,433.4 601.0,433.2 602.7,433.0 604.4,432.8 606.1,432.7 607.8,432.6 609.5,432.5 611.1,432.4 612.8,432.3 614.5,432.2 616.2,432.2 617.9,432.1" fill="none" stroke="#222" stroke-width="1"/>
<polyline points="483.2,520.3 484.9,520.3 486.5,520.2 488.2,520.2 489.9,520.1 491.6,520.1 493.3,520.0 495.0,519.9 496.7,519.9 498.3,519.8 500.0,519.7 501.7,519.6 503.4,519.5 505.1,519.3 506.8,519.2 508.4,519.1 510.1,518.9 511.8,518.7 513.5,518.5 515.2,518.3 516.9,518.1 518.5,517.8 520.2,517.5 521.9,517.2 523.6,516.9 525.3,516.5 527.0,516.1 528.6,515.7 530.3,515.2 532.0,514.7 533.7,514.2 535.4,513.6 537.1,512.9 538.7,512.2 540.4,511.5 542.1,510.6 543.8,509.8 545.5,508.8 547.2,507.8 548.8,506.7 550.5,505.6 552.2,504.4 553.9,503.1 555.6,501.7 557.3,500.3 558.9,498.8 560.6,497.2 562.3,495.5 564.0,493.8 565.7,492.0 567.4,490.2 569.1,488.3 570.7,486.4 572.4,484.4 574.1,482.4 575.8,480.4 577.5,478.4 579.2,476.4 580.8,474.4 582.5,472.4 584.2,470.5 585.9,468.5 587.6,466.7 589.3,464.8 590.9,463.1 592.6,461.3 594.3,459.7 596.0,458.1 597.7,456.6 599.4,455.2 601.0,453.8 602.7,452.5 604.4,451.3 606.1,450.2 607.8,449.1 609.5,448.1 611.1,447.1 612.8,446.3 614.5,445.4 616.2,444.7 617.9,444.0" fill="none" stroke="#222" stroke-width="1"/>
<line x1="483.2" y1="517.2" x2="483.2" y2="508.3" stroke="#222" stroke-width="1"/>
<line x1="479.2" y1="517.2" x2="487.2" y2="517.2" stroke="#222" stroke-width="1.1"/>
<line x1="479.2" y1="508.3" x2="487.2" y2="508.3" stroke="#222" stroke-width="1.1"/>
<path d="M483.2,507.5 L488.1,516.3 L478.3,516.3 Z" fill="#e676bc" stroke="#3c0c2c" stroke-width="1.1" stroke-linejoin="round"/>
<line x1="510.1" y1="518.5" x2="510.1" y2="514.9" stroke="#222" stroke-width="1"/>
<line x1="506.1" y1="518.5" x2="514.1" y2="518.5" stroke="#222" stroke-width="1.1"/>
<line x1="506.1" y1="514.9" x2="514.1" y2="514.9" stroke="#222" stroke-width="1.1"/>
<path d="M510.1,511.5 L515.0,520.3 L505.2,520.3 Z" fill="#e676bc" stroke="#3c0c2c" stroke-width="1.1" stroke-linejoin="round"/>
<line x1="537.1" y1="518.9" x2="537.1" y2="511.8" stroke="#222" stroke-width="1"/>
<line x1="533.1" y1="518.9" x2="541.1" y2="518.9" stroke="#222" stroke-width="1.1"/>
<line x1="533.1" y1="511.8" x2="541.1" y2="511.8" stroke="#222" stroke-width="1.1"/>
<path d="M537.1,510.2 L542.0,519.0 L532.2,519.0 Z" fill="#e676bc" stroke="#3c0c2c" stroke-width="1.1" stroke-linejoin="round"/>
<line x1="564.0" y1="497.6" x2="564.0" y2="494.0" stroke="#222" stroke-width="1"/>
<line x1="560.0" y1="497.6" x2="568.0" y2="497.6" stroke="#222" stroke-width="1.1"/>
<line x1="560.0" y1="494.0" x2="568.0" y2="494.0" stroke="#222" stroke-width="1.1"/>
<path d="M564.0,490.6 L568.9,499.4 L559.1,499.4 Z" fill="#e676bc" stroke="#3c0c2c" stroke-width="1.1" stroke-linejoin="round"/>
<line x1="590.9" y1="465.1" x2="590.9" y2="454.5" stroke="#222" stroke-width="1"/>
<line x1="586.9" y1="465.1" x2="594.9" y2="465.1" stroke="#222" stroke-width="1.1"/>
<line x1="586.9" y1="454.5" x2="594.9" y2="454.5" stroke="#222" stroke-width="1.1"/>
<path d="M590.9,454.6 L595.8,463.4 L586.0,463.4 Z" fill="#e676bc" stroke="#3c0c2c" stroke-width="1.1" stroke-linejoin="round"/>
<line x1="617.9" y1="455.3" x2="617.9" y2="442.9" stroke="#222" stroke-width="1"/>
<line x1="613.9" y1="455.3" x2="621.9" y2="455.3" stroke="#222" stroke-width="1.1"/>
<line x1="613.9" y1="442.9" x2="621.9" y2="442.9" stroke="#222" stroke-width="1.1"/>
<path d="M617.9,443.9 L622.8,452.7 L613.0,452.7 Z" fill="#e676bc" stroke="#3c0c2c" stroke-width="1.1" stroke-linejoin="round"/>
<line x1="483.2" y1="518.9" x2="483.2" y2="508.3" stroke="#222" stroke-width="1"/>
<line x1="479.2" y1="518.9" x2="487.2" y2="518.9" stroke="#222" stroke-width="1.1"/>
<line x1="479.2" y1="508.3" x2="487.2" y2="508.3" stroke="#222" stroke-width="1.1"/>
<rect x="478.6" y="509.0" width="9.2" height="9.2" fill="#eea6ee" stroke="#3c143c" stroke-width="1.1"/>
<line x1="510.1" y1="516.3" x2="510.1" y2="510.9" stroke="#222" stroke-width="1"/>
<line x1="506.1" y1="516.3" x2="514.1" y2="516.3" stroke="#222" stroke-width="1.1"/>
<line x1="506.1" y1="510.9" x2="514.1" y2="510.9" stroke="#222" stroke-width="1.1"/>
<rect x="505.5" y="509.0" width="9.2" height="9.2" fill="#eea6ee" stroke="#3c143c" stroke-width="1.1"/>
<line x1="537.1" y1="506.9" x2="537.1" y2="496.3" stroke="#222" stroke-width="1"/>
<line x1="533.1" y1="506.9" x2="541.1" y2="506.9" stroke="#222" stroke-width="1.1"/>
<line x1="533.1" y1="496.3" x2="541.1" y2="496.3" stroke="#222" stroke-width="1.1"/>
<rect x="532.5" y="497.0" width="9.2" height="9.2" fill="#eea6ee" stroke="#3c143c" stroke-width="1.1"/>
<line x1="564.0" y1="459.3" x2="564.0" y2="445.1" stroke="#222" stroke-width="1"/>
<line x1="560.0" y1="459.3" x2="568.0" y2="459.3" stroke="#222" stroke-width="1.1"/>
<line x1="560.0" y1="445.1" x2="568.0" y2="445.1" stroke="#222" stroke-width="1.1"/>
<rect x="559.4" y="447.6" width="9.2" height="9.2" fill="#eea6ee" stroke="#3c143c" stroke-width="1.1"/>
<line x1="590.9" y1="435.8" x2="590.9" y2="432.2" stroke="#222" stroke-width="1"/>
<line x1="586.9" y1="435.8" x2="594.9" y2="435.8" stroke="#222" stroke-width="1.1"/>
<line x1="586.9" y1="432.2" x2="594.9" y2="432.2" stroke="#222" stroke-width="1.1"/>
<rect x="586.3" y="429.4" width="9.2" height="9.2" fill="#eea6ee" stroke="#3c143c" stroke-width="1.1"/>
<line x1="617.9" y1="434.9" x2="617.9" y2="431.3" stroke="#222" stroke-width="1"/>
<line x1="613.9" y1="434.9" x2="621.9" y2="434.9" stroke="#222" stroke-width="1.1"/>
<line x1="613.9" y1="431.3" x2="621.9" y2="431.3" stroke="#222" stroke-width="1.1"/>
<rect x="613.3" y="428.5" width="9.2" height="9.2" fill="#eea6ee" stroke="#3c143c" stroke-width="1.1"/>
<line x1="483.2" y1="522.5" x2="483.2" y2="518.9" stroke="#222" stroke-width="1"/>
<line x1="479.2" y1="522.5" x2="487.2" y2="522.5" stroke="#222" stroke-width="1.1"/>
<line x1="479.2" y1="518.9" x2="487.2" y2="518.9" stroke="#222" stroke-width="1.1"/>
<circle cx="483.2" cy="520.7" r="4.6" fill="#d07ef2" stroke="#2c0c40" stroke-width="1.1"/>
<line x1="510.1" y1="519.4" x2="510.1" y2="515.8" stroke="#222" stroke-width="1"/>
<line x1="506.1" y1="519.4" x2="514.1" y2="519.4" stroke="#222" stroke-width="1.1"/>
<line x1="506.1" y1="515.8" x2="514.1" y2="515.8" stroke="#222" stroke-width="1.1"/>
<circle cx="510.1" cy="517.6" r="4.6" fill="#d07ef2" stroke="#2c0c40" stroke-width="1.1"/>
<line x1="537.1" y1="489.1" x2="537.1" y2="474.9" stroke="#222" stroke-width="1"/>
<line x1="533.1" y1="489.1" x2="541.1" y2="489.1" stroke="#222" stroke-width="1.1"/>
<line x1="533.1" y1="474.9" x2="541.1" y2="474.9" stroke="#222" stroke-width="1.1"/>
<circle cx="537.1" cy="482.0" r="4.6" fill="#d07ef2" stroke="#2c0c40" stroke-width="1.1"/>
<line x1="564.0" y1="439.3" x2="564.0" y2="435.8" stroke="#222" stroke-width="1"/>
<line x1="560.0" y1="439.3" x2="568.0" y2="439.3" stroke="#222" stroke-width="1.1"/>
<line x1="560.0" y1="435.8" x2="568.0" y2="435.8" stroke="#222" stroke-width="1.1"/>
<circle cx="564.0" cy="437.6" r="4.6" fill="#d07ef2" stroke="#2c0c40" stroke-width="1.1"/>
<line x1="590.9" y1="433.3" x2="590.9" y2="431.5" stroke="#222" stroke-width="1"/>
<line x1="586.9" y1="433.3" x2="594.9" y2="433.3" stroke="#222" stroke-width="1.1"/>
<line x1="586.9" y1="431.5" x2="594.9" y2="431.5" stroke="#222" stroke-width="1.1"/>
<circle cx="590.9" cy="432.4" r="4.6" fill="#d07ef2" stroke="#2c0c40" stroke-width="1.1"/>
<line x1="617.9" y1="433.6" x2="617.9" y2="431.8" stroke="#222" stroke-width="1"/>
<line x1="613.9" y1="433.6" x2="621.9" y2="433.6" stroke="#222" stroke-width="1.1"/>
<line x1="613.9" y1="431.8" x2="621.9" y2="431.8" stroke="#222" stroke-width="1.1"/>
<circle cx="617.9" cy="432.7" r="4.6" fill="#d07ef2" stroke="#2c0c40" stroke-width="1.1"/>
<line x1="484" y1="365.2" x2="503.4" y2="365.2" stroke="#333" stroke-width="1.1"/>
<circle cx="493.7" cy="365.2" r="4.6" fill="#d07ef2" stroke="#2c0c40" stroke-width="1.1"/>
<text x="514.2" y="369.5" font-size="12.2" text-anchor="start" fill="#111" color="#111" textLength="135.5" lengthAdjust="spacingAndGlyphs">GQ20-PTO IC50: 0.5 µM</text>
<line x1="484" y1="383.8" x2="503.4" y2="383.8" stroke="#333" stroke-width="1.1"/>
<rect x="489.1" y="379.2" width="9.2" height="9.2" fill="#eea6ee" stroke="#3c143c" stroke-width="1.1"/>
<text x="514.2" y="388.1" font-size="12.2" text-anchor="start" fill="#111" color="#111" textLength="136.2" lengthAdjust="spacingAndGlyphs">GQ12-PTO IC50: 0.7 µM</text>
<line x1="484" y1="401.8" x2="503.4" y2="401.8" stroke="#333" stroke-width="1.1"/>
<path d="M493.7,396.6 L498.6,405.4 L488.8,405.4 Z" fill="#e676bc" stroke="#3c0c2c" stroke-width="1.1" stroke-linejoin="round"/>
<text x="514.2" y="406.1" font-size="12.2" text-anchor="start" fill="#111" color="#111" textLength="129.3" lengthAdjust="spacingAndGlyphs">GQ6-PTO IC50: 1.5 µM</text>
<text x="118.2" y="643.6" font-size="11" text-anchor="start" fill="#222" color="#222" >Backbone dependency</text>
<line x1="38.5" y1="648" x2="317" y2="648" stroke="#333" stroke-width="1.7" stroke-dasharray="1.7 2.5"/>
<text x="37.6" y="665.4" font-size="10.6" text-anchor="start" fill="#222" color="#222" >GQ20-PTO</text>
<text x="111.7" y="665.4" font-size="10.6" text-anchor="start" fill="#222" color="#222" >5´-</text>
<rect x="126.7" y="654.1" width="178.8" height="16.4" fill="#c8a0e2" stroke="#a878c8" stroke-width="1"/>
<text x="129.8" y="666.2" font-size="12.2" fill="#24143a" color="#24143a" textLength="170.5" lengthAdjust="spacingAndGlyphs" style="stroke-width:0.4px">GGG GGG GGG GGG GGG GGG GG</text>
<text x="307.6" y="665.4" font-size="10.6" text-anchor="start" fill="#222" color="#222" >-3´</text>
<text x="37.6" y="688.0" font-size="10.6" text-anchor="start" fill="#222" color="#222" >GQ20-PDE</text>
<text x="111.7" y="688.0" font-size="10.6" text-anchor="start" fill="#222" color="#222" >5´-</text>
<rect x="126.7" y="677.1" width="178.8" height="17.8" fill="#f5c08e" stroke="#e4975a" stroke-width="1"/>
<text x="130.7" y="688.8" font-size="12.2" fill="#3a200c" color="#3a200c" textLength="18.4" lengthAdjust="spacingAndGlyphs" style="stroke-width:0.4px">ggg</text>
<text x="159.9" y="688.8" font-size="12.2" fill="#3a200c" color="#3a200c" textLength="16.8" lengthAdjust="spacingAndGlyphs" style="stroke-width:0.4px">ggg</text>
<text x="186.8" y="688.8" font-size="12.2" fill="#3a200c" color="#3a200c" textLength="17.5" lengthAdjust="spacingAndGlyphs" style="stroke-width:0.4px">ggg</text>
<text x="212" y="688.8" font-size="12.2" fill="#3a200c" color="#3a200c" textLength="17.7" lengthAdjust="spacingAndGlyphs" style="stroke-width:0.4px">ggg</text>
<text x="235.9" y="688.8" font-size="12.2" fill="#3a200c" color="#3a200c" textLength="18.4" lengthAdjust="spacingAndGlyphs" style="stroke-width:0.4px">ggg</text>
<text x="264.1" y="688.8" font-size="12.2" fill="#3a200c" color="#3a200c" textLength="16.8" lengthAdjust="spacingAndGlyphs" style="stroke-width:0.4px">ggg</text>
<text x="287.1" y="688.8" font-size="12.2" fill="#3a200c" color="#3a200c" textLength="13.8" lengthAdjust="spacingAndGlyphs" style="stroke-width:0.4px">gg</text>
<text x="307.6" y="688.0" font-size="10.6" text-anchor="start" fill="#222" color="#222" >-3´</text>
<text x="54.2" y="743.3" font-size="10.2" text-anchor="middle" fill="#111" color="#111" >mock</text>
<text x="96.2" y="743.3" font-size="10.2" text-anchor="middle" fill="#111" color="#111" >B.1</text>
<text x="138.2" y="743.3" font-size="10.2" text-anchor="middle" fill="#111" color="#111" >4</text>
<text x="180.2" y="743.3" font-size="10.2" text-anchor="middle" fill="#111" color="#111" >1</text>
<text x="222.2" y="743.3" font-size="10.2" text-anchor="middle" fill="#111" color="#111" >0.5</text>
<text x="264.2" y="743.3" font-size="10.2" text-anchor="middle" fill="#111" color="#111" >0.25</text>
<text x="306.2" y="743.3" font-size="10.2" text-anchor="middle" fill="#111" color="#111" >0.125</text>
<text x="348.2" y="743.3" font-size="10.2" text-anchor="middle" fill="#111" color="#111" >0.0625</text>
<line x1="137.7" y1="730.7" x2="348" y2="730.7" stroke="#b4b4b4" stroke-width="1.3"/>
<text x="258.0" y="727.0" font-size="10.2" text-anchor="middle" fill="#111" color="#111" >GQ20 (µM)</text>
<rect x="33.1" y="747.3" width="41.0" height="41.0" fill="url(#wsq)"/>
<circle cx="52.5" cy="768.9" r="20.6" fill="url(#wring)"/>
<circle cx="52.5" cy="768.9" r="17.8" fill="#fcfdfa"/>
<circle cx="52.5" cy="768.9" r="17.8" fill="none" stroke="#48412f" stroke-width="1.4"/>
<rect x="75.2" y="747.3" width="41.0" height="41.0" fill="url(#wsq)"/>
<circle cx="94.6" cy="768.9" r="20.6" fill="url(#wring)"/>
<circle cx="94.6" cy="768.9" r="17.8" fill="#f7ece3"/>
<circle cx="94.6" cy="768.9" r="17.8" fill="#dcab98" filter="url(#fd8)"/>
<circle cx="94.6" cy="768.9" r="17.8" fill="none" stroke="#48412f" stroke-width="1.4"/>
<rect x="117.2" y="747.3" width="41.0" height="41.0" fill="url(#wsq)"/>
<circle cx="136.6" cy="768.9" r="20.6" fill="url(#wring)"/>
<circle cx="136.6" cy="768.9" r="17.8" fill="#fcfdfa"/>
<circle cx="136.6" cy="768.9" r="17.8" fill="none" stroke="#48412f" stroke-width="1.4"/>
<rect x="159.3" y="747.3" width="41.0" height="41.0" fill="url(#wsq)"/>
<circle cx="178.7" cy="768.9" r="20.6" fill="url(#wring)"/>
<circle cx="178.7" cy="768.9" r="17.8" fill="#fcfdfa"/>
<circle cx="178.7" cy="768.9" r="17.8" fill="none" stroke="#48412f" stroke-width="1.4"/>
<rect x="201.4" y="747.3" width="41.0" height="41.0" fill="url(#wsq)"/>
<circle cx="220.8" cy="768.9" r="20.6" fill="url(#wring)"/>
<circle cx="220.8" cy="768.9" r="17.8" fill="#fcfdfa"/>
<circle cx="220.8" cy="768.9" r="17.8" fill="none" stroke="#48412f" stroke-width="1.4"/>
<rect x="243.4" y="747.3" width="41.0" height="41.0" fill="url(#wsq)"/>
<circle cx="262.8" cy="768.9" r="20.6" fill="url(#wring)"/>
<circle cx="262.8" cy="768.9" r="17.8" fill="#f9f3ee"/>
<circle cx="262.8" cy="768.9" r="17.8" fill="#dcab98" filter="url(#fd4)"/>
<circle cx="262.8" cy="768.9" r="17.8" fill="none" stroke="#48412f" stroke-width="1.4"/>
<rect x="285.5" y="747.3" width="41.0" height="41.0" fill="url(#wsq)"/>
<circle cx="304.9" cy="768.9" r="20.6" fill="url(#wring)"/>
<circle cx="304.9" cy="768.9" r="17.8" fill="#f7eee6"/>
<circle cx="304.9" cy="768.9" r="17.8" fill="#dcab98" filter="url(#fd7)"/>
<circle cx="304.9" cy="768.9" r="17.8" fill="none" stroke="#48412f" stroke-width="1.4"/>
<rect x="327.6" y="747.3" width="41.0" height="41.0" fill="url(#wsq)"/>
<circle cx="347.0" cy="768.9" r="20.6" fill="url(#wring)"/>
<circle cx="347.0" cy="768.9" r="17.8" fill="#f7ede5"/>
<circle cx="347.0" cy="768.9" r="17.8" fill="#dcab98" filter="url(#fd7)"/>
<circle cx="347.0" cy="768.9" r="17.8" fill="none" stroke="#48412f" stroke-width="1.4"/>
<rect x="33.1" y="790.8" width="41.0" height="41.0" fill="url(#wsq)"/>
<circle cx="52.5" cy="812.4" r="20.6" fill="url(#wring)"/>
<circle cx="52.5" cy="812.4" r="17.8" fill="#fcfdfa"/>
<circle cx="52.5" cy="812.4" r="17.8" fill="none" stroke="#48412f" stroke-width="1.4"/>
<rect x="75.2" y="790.8" width="41.0" height="41.0" fill="url(#wsq)"/>
<circle cx="94.6" cy="812.4" r="20.6" fill="url(#wring)"/>
<circle cx="94.6" cy="812.4" r="17.8" fill="#f7ece3"/>
<circle cx="94.6" cy="812.4" r="17.8" fill="#dcab98" filter="url(#fd8)"/>
<circle cx="94.6" cy="812.4" r="17.8" fill="none" stroke="#48412f" stroke-width="1.4"/>
<rect x="117.2" y="790.8" width="41.0" height="41.0" fill="url(#wsq)"/>
<circle cx="136.6" cy="812.4" r="20.6" fill="url(#wring)"/>
<circle cx="136.6" cy="812.4" r="17.8" fill="#f7eee6"/>
<circle cx="136.6" cy="812.4" r="17.8" fill="#dcab98" filter="url(#fd7)"/>
<circle cx="136.6" cy="812.4" r="17.8" fill="none" stroke="#48412f" stroke-width="1.4"/>
<rect x="159.3" y="790.8" width="41.0" height="41.0" fill="url(#wsq)"/>
<circle cx="178.7" cy="812.4" r="20.6" fill="url(#wring)"/>
<circle cx="178.7" cy="812.4" r="17.8" fill="#f7eee6"/>
<circle cx="178.7" cy="812.4" r="17.8" fill="#dcab98" filter="url(#fd7)"/>
<circle cx="178.7" cy="812.4" r="17.8" fill="none" stroke="#48412f" stroke-width="1.4"/>
<rect x="201.4" y="790.8" width="41.0" height="41.0" fill="url(#wsq)"/>
<circle cx="220.8" cy="812.4" r="20.6" fill="url(#wring)"/>
<circle cx="220.8" cy="812.4" r="17.8" fill="#f7eee6"/>
<circle cx="220.8" cy="812.4" r="17.8" fill="#dcab98" filter="url(#fd7)"/>
<circle cx="220.8" cy="812.4" r="17.8" fill="none" stroke="#48412f" stroke-width="1.4"/>
<rect x="243.4" y="790.8" width="41.0" height="41.0" fill="url(#wsq)"/>
<circle cx="262.8" cy="812.4" r="20.6" fill="url(#wring)"/>
<circle cx="262.8" cy="812.4" r="17.8" fill="#f8efe8"/>
<circle cx="262.8" cy="812.4" r="17.8" fill="#dcab98" filter="url(#fd6)"/>
<circle cx="262.8" cy="812.4" r="17.8" fill="none" stroke="#48412f" stroke-width="1.4"/>
<rect x="285.5" y="790.8" width="41.0" height="41.0" fill="url(#wsq)"/>
<circle cx="304.9" cy="812.4" r="20.6" fill="url(#wring)"/>
<circle cx="304.9" cy="812.4" r="17.8" fill="#f7ede5"/>
<circle cx="304.9" cy="812.4" r="17.8" fill="#dcab98" filter="url(#fd7)"/>
<circle cx="304.9" cy="812.4" r="17.8" fill="none" stroke="#48412f" stroke-width="1.4"/>
<rect x="327.6" y="790.8" width="41.0" height="41.0" fill="url(#wsq)"/>
<circle cx="347.0" cy="812.4" r="20.6" fill="url(#wring)"/>
<circle cx="347.0" cy="812.4" r="17.8" fill="#f7ede5"/>
<circle cx="347.0" cy="812.4" r="17.8" fill="#dcab98" filter="url(#fd7)"/>
<circle cx="347.0" cy="812.4" r="17.8" fill="none" stroke="#48412f" stroke-width="1.4"/>
<text x="370.8" y="771.5" font-size="10.2" text-anchor="start" fill="#111" color="#111" >PTO</text>
<text x="370.8" y="815.6" font-size="10.2" text-anchor="start" fill="#111" color="#111" >PDE</text>
<line x1="475.8" y1="658.8" x2="475.8" y2="840.4" stroke="#111" stroke-width="1.3"/>
<line x1="468.8" y1="840.4" x2="657.8" y2="840.4" stroke="#111" stroke-width="1.3"/>
<line x1="468.8" y1="658.8" x2="475.8" y2="658.8" stroke="#111" stroke-width="1.3"/>
<text x="466.1" y="661.7" font-size="12.2" text-anchor="end" fill="#111" color="#111" textLength="19.2" lengthAdjust="spacingAndGlyphs">150</text>
<line x1="468.8" y1="704.2" x2="475.8" y2="704.2" stroke="#111" stroke-width="1.3"/>
<text x="466.1" y="707.1" font-size="12.2" text-anchor="end" fill="#111" color="#111" textLength="19.2" lengthAdjust="spacingAndGlyphs">100</text>
<line x1="468.8" y1="749.6" x2="475.8" y2="749.6" stroke="#111" stroke-width="1.3"/>
<text x="466.1" y="752.5" font-size="12.2" text-anchor="end" fill="#111" color="#111" textLength="12.8" lengthAdjust="spacingAndGlyphs">50</text>
<line x1="468.8" y1="795.0" x2="475.8" y2="795.0" stroke="#111" stroke-width="1.3"/>
<text x="466.1" y="797.9" font-size="12.2" text-anchor="end" fill="#111" color="#111" textLength="6.4" lengthAdjust="spacingAndGlyphs">0</text>
<line x1="468.8" y1="840.4" x2="475.8" y2="840.4" stroke="#111" stroke-width="1.3"/>
<text x="466.1" y="843.3" font-size="12.2" text-anchor="end" fill="#111" color="#111" textLength="16.6" lengthAdjust="spacingAndGlyphs">-50</text>
<line x1="475.8" y1="840.4" x2="475.8" y2="847.4" stroke="#111" stroke-width="1.3"/>
<text x="475.8" y="860.7" font-size="12.2" text-anchor="middle" fill="#111" color="#111" textLength="20.0" lengthAdjust="spacingAndGlyphs">-1.0</text>
<line x1="521.3" y1="840.4" x2="521.3" y2="847.4" stroke="#111" stroke-width="1.3"/>
<text x="521.3" y="860.7" font-size="12.2" text-anchor="middle" fill="#111" color="#111" textLength="20.0" lengthAdjust="spacingAndGlyphs">-0.5</text>
<line x1="566.8" y1="840.4" x2="566.8" y2="847.4" stroke="#111" stroke-width="1.3"/>
<text x="566.8" y="860.7" font-size="12.2" text-anchor="middle" fill="#111" color="#111" textLength="16.1" lengthAdjust="spacingAndGlyphs">0.0</text>
<line x1="612.3" y1="840.4" x2="612.3" y2="847.4" stroke="#111" stroke-width="1.3"/>
<text x="612.3" y="860.7" font-size="12.2" text-anchor="middle" fill="#111" color="#111" textLength="16.1" lengthAdjust="spacingAndGlyphs">0.5</text>
<line x1="657.8" y1="840.4" x2="657.8" y2="847.4" stroke="#111" stroke-width="1.3"/>
<text x="657.8" y="860.7" font-size="12.2" text-anchor="middle" fill="#111" color="#111" textLength="16.1" lengthAdjust="spacingAndGlyphs">1.0</text>
<text x="566.3" y="877.6" font-size="12.4" text-anchor="middle" fill="#111" color="#111" textLength="126" lengthAdjust="spacingAndGlyphs">log concentration (µM)</text>
<text x="437.6" y="749.4" font-size="12.6" text-anchor="middle" fill="#111" color="#111" textLength="146.2" lengthAdjust="spacingAndGlyphs" transform="rotate(-90 437.6 749.4)">% of inhibition B.1 (Calu-3)</text>
<line x1="478.8" y1="795.0" x2="656.8" y2="795.0" stroke="#111" stroke-width="1.8" stroke-dasharray="1.8 3.6"/>
<polyline points="484.6,794.4 486.3,794.3 488.1,794.2 489.8,794.1 491.5,793.9 493.2,793.7 494.9,793.5 496.6,793.3 498.3,793.0 500.0,792.7 501.7,792.4 503.5,792.0 505.2,791.5 506.9,791.0 508.6,790.4 510.3,789.7 512.0,788.9 513.7,788.1 515.4,787.0 517.2,785.9 518.9,784.6 520.6,783.2 522.3,781.6 524.0,779.8 525.7,777.9 527.4,775.7 529.1,773.4 530.8,770.9 532.6,768.2 534.3,765.3 536.0,762.3 537.7,759.2 539.4,756.0 541.1,752.6 542.8,749.3 544.5,746.0 546.3,742.7 548.0,739.5 549.7,736.3 551.4,733.3 553.1,730.5 554.8,727.8 556.5,725.4 558.2,723.1 560.0,721.0 561.7,719.0 563.4,717.3 565.1,715.7 566.8,714.3 568.5,713.1 570.2,712.0 571.9,711.0 573.6,710.1 575.4,709.4 577.1,708.7 578.8,708.1 580.5,707.6 582.2,707.1 583.9,706.7 585.6,706.4 587.3,706.1 589.1,705.9 590.8,705.6 592.5,705.4 594.2,705.3 595.9,705.1 597.6,705.0 599.3,704.9 601.0,704.8 602.8,704.7 604.5,704.6 606.2,704.6 607.9,704.5 609.6,704.5 611.3,704.4 613.0,704.4 614.7,704.4 616.4,704.4 618.2,704.3 619.9,704.3 621.6,704.3" fill="none" stroke="#222" stroke-width="1"/>
<polyline points="484.6,786.6 486.3,786.5 488.1,786.4 489.8,786.3 491.5,786.2 493.2,786.1 494.9,786.0 496.6,786.0 498.3,785.9 500.0,785.8 501.7,785.7 503.5,785.6 505.2,785.5 506.9,785.4 508.6,785.4 510.3,785.3 512.0,785.2 513.7,785.1 515.4,785.0 517.2,784.9 518.9,784.8 520.6,784.8 522.3,784.7 524.0,784.6 525.7,784.5 527.4,784.4 529.1,784.3 530.8,784.2 532.6,784.2 534.3,784.1 536.0,784.0 537.7,783.9 539.4,783.8 541.1,783.7 542.8,783.7 544.5,783.6 546.3,783.5 548.0,783.4 549.7,783.3 551.4,783.2 553.1,783.1 554.8,783.1 556.5,783.0 558.2,782.9 560.0,782.8 561.7,782.7 563.4,782.6 565.1,782.5 566.8,782.5 568.5,782.4 570.2,782.3 571.9,782.2 573.6,782.1 575.4,782.0 577.1,781.9 578.8,781.9 580.5,781.8 582.2,781.7 583.9,781.6 585.6,781.5 587.3,781.4 589.1,781.3 590.8,781.3 592.5,781.2 594.2,781.1 595.9,781.0 597.6,780.9 599.3,780.8 601.0,780.7 602.8,780.7 604.5,780.6 606.2,780.5 607.9,780.4 609.6,780.3 611.3,780.2 613.0,780.1 614.7,780.1 616.4,780.0 618.2,779.9 619.9,779.8 621.6,779.7" fill="none" stroke="#222" stroke-width="1"/>
<line x1="484.6" y1="791.2" x2="484.6" y2="783.9" stroke="#222" stroke-width="1"/>
<line x1="480.6" y1="791.2" x2="488.6" y2="791.2" stroke="#222" stroke-width="1.1"/>
<line x1="480.6" y1="783.9" x2="488.6" y2="783.9" stroke="#222" stroke-width="1.1"/>
<rect x="480.0" y="783.0" width="9.2" height="9.2" fill="#f2b466" stroke="#3a240c" stroke-width="1.1"/>
<line x1="512.0" y1="791.5" x2="512.0" y2="786.1" stroke="#222" stroke-width="1"/>
<line x1="508.0" y1="791.5" x2="516.0" y2="791.5" stroke="#222" stroke-width="1.1"/>
<line x1="508.0" y1="786.1" x2="516.0" y2="786.1" stroke="#222" stroke-width="1.1"/>
<rect x="507.4" y="784.2" width="9.2" height="9.2" fill="#f2b466" stroke="#3a240c" stroke-width="1.1"/>
<line x1="539.4" y1="785.5" x2="539.4" y2="781.8" stroke="#222" stroke-width="1"/>
<line x1="535.4" y1="785.5" x2="543.4" y2="785.5" stroke="#222" stroke-width="1.1"/>
<line x1="535.4" y1="781.8" x2="543.4" y2="781.8" stroke="#222" stroke-width="1.1"/>
<rect x="534.8" y="779.0" width="9.2" height="9.2" fill="#f2b466" stroke="#3a240c" stroke-width="1.1"/>
<line x1="566.8" y1="779.6" x2="566.8" y2="775.9" stroke="#222" stroke-width="1"/>
<line x1="562.8" y1="779.6" x2="570.8" y2="779.6" stroke="#222" stroke-width="1.1"/>
<line x1="562.8" y1="775.9" x2="570.8" y2="775.9" stroke="#222" stroke-width="1.1"/>
<rect x="562.2" y="773.1" width="9.2" height="9.2" fill="#f2b466" stroke="#3a240c" stroke-width="1.1"/>
<line x1="594.2" y1="791.6" x2="594.2" y2="782.6" stroke="#222" stroke-width="1"/>
<line x1="590.2" y1="791.6" x2="598.2" y2="791.6" stroke="#222" stroke-width="1.1"/>
<line x1="590.2" y1="782.6" x2="598.2" y2="782.6" stroke="#222" stroke-width="1.1"/>
<rect x="589.6" y="782.5" width="9.2" height="9.2" fill="#f2b466" stroke="#3a240c" stroke-width="1.1"/>
<line x1="621.6" y1="781.8" x2="621.6" y2="776.4" stroke="#222" stroke-width="1"/>
<line x1="617.6" y1="781.8" x2="625.6" y2="781.8" stroke="#222" stroke-width="1.1"/>
<line x1="617.6" y1="776.4" x2="625.6" y2="776.4" stroke="#222" stroke-width="1.1"/>
<rect x="617.0" y="774.5" width="9.2" height="9.2" fill="#f2b466" stroke="#3a240c" stroke-width="1.1"/>
<line x1="484.6" y1="793.0" x2="484.6" y2="781.2" stroke="#222" stroke-width="1"/>
<line x1="480.6" y1="793.0" x2="488.6" y2="793.0" stroke="#222" stroke-width="1.1"/>
<line x1="480.6" y1="781.2" x2="488.6" y2="781.2" stroke="#222" stroke-width="1.1"/>
<circle cx="484.6" cy="787.1" r="4.6" fill="#c263f0" stroke="#2a0a40" stroke-width="1.1"/>
<line x1="512.0" y1="783.6" x2="512.0" y2="778.2" stroke="#222" stroke-width="1"/>
<line x1="508.0" y1="783.6" x2="516.0" y2="783.6" stroke="#222" stroke-width="1.1"/>
<line x1="508.0" y1="778.2" x2="516.0" y2="778.2" stroke="#222" stroke-width="1.1"/>
<circle cx="512.0" cy="780.9" r="4.6" fill="#c263f0" stroke="#2a0a40" stroke-width="1.1"/>
<line x1="539.4" y1="766.1" x2="539.4" y2="752.5" stroke="#222" stroke-width="1"/>
<line x1="535.4" y1="766.1" x2="543.4" y2="766.1" stroke="#222" stroke-width="1.1"/>
<line x1="535.4" y1="752.5" x2="543.4" y2="752.5" stroke="#222" stroke-width="1.1"/>
<circle cx="539.4" cy="759.3" r="4.6" fill="#c263f0" stroke="#2a0a40" stroke-width="1.1"/>
<line x1="566.8" y1="712.4" x2="566.8" y2="708.7" stroke="#222" stroke-width="1"/>
<line x1="562.8" y1="712.4" x2="570.8" y2="712.4" stroke="#222" stroke-width="1.1"/>
<line x1="562.8" y1="708.7" x2="570.8" y2="708.7" stroke="#222" stroke-width="1.1"/>
<circle cx="566.8" cy="710.6" r="4.6" fill="#c263f0" stroke="#2a0a40" stroke-width="1.1"/>
<line x1="594.2" y1="708.7" x2="594.2" y2="705.1" stroke="#222" stroke-width="1"/>
<line x1="590.2" y1="708.7" x2="598.2" y2="708.7" stroke="#222" stroke-width="1.1"/>
<line x1="590.2" y1="705.1" x2="598.2" y2="705.1" stroke="#222" stroke-width="1.1"/>
<circle cx="594.2" cy="706.9" r="4.6" fill="#c263f0" stroke="#2a0a40" stroke-width="1.1"/>
<line x1="621.6" y1="710.9" x2="621.6" y2="707.3" stroke="#222" stroke-width="1"/>
<line x1="617.6" y1="710.9" x2="625.6" y2="710.9" stroke="#222" stroke-width="1.1"/>
<line x1="617.6" y1="707.3" x2="625.6" y2="707.3" stroke="#222" stroke-width="1.1"/>
<circle cx="621.6" cy="709.1" r="4.6" fill="#c263f0" stroke="#2a0a40" stroke-width="1.1"/>
<line x1="484" y1="653.0" x2="503.4" y2="653.0" stroke="#333" stroke-width="1.1"/>
<circle cx="493.7" cy="653.0" r="4.6" fill="#c263f0" stroke="#2a0a40" stroke-width="1.1"/>
<text x="514.2" y="657.3" font-size="12.2" text-anchor="start" fill="#111" color="#111" textLength="138.3" lengthAdjust="spacingAndGlyphs">GQ20-PTO IC50: 0.5 µM</text>
<line x1="484" y1="672.5" x2="503.4" y2="672.5" stroke="#333" stroke-width="1.1"/>
<rect x="489.1" y="667.9" width="9.2" height="9.2" fill="#f2b466" stroke="#3a240c" stroke-width="1.1"/>
<text x="514.2" y="676.8" font-size="12.2" text-anchor="start" fill="#111" color="#111" textLength="134.8" lengthAdjust="spacingAndGlyphs">GQ20-PDE IC50: &gt;4 µM</text>
</svg></body></html>
